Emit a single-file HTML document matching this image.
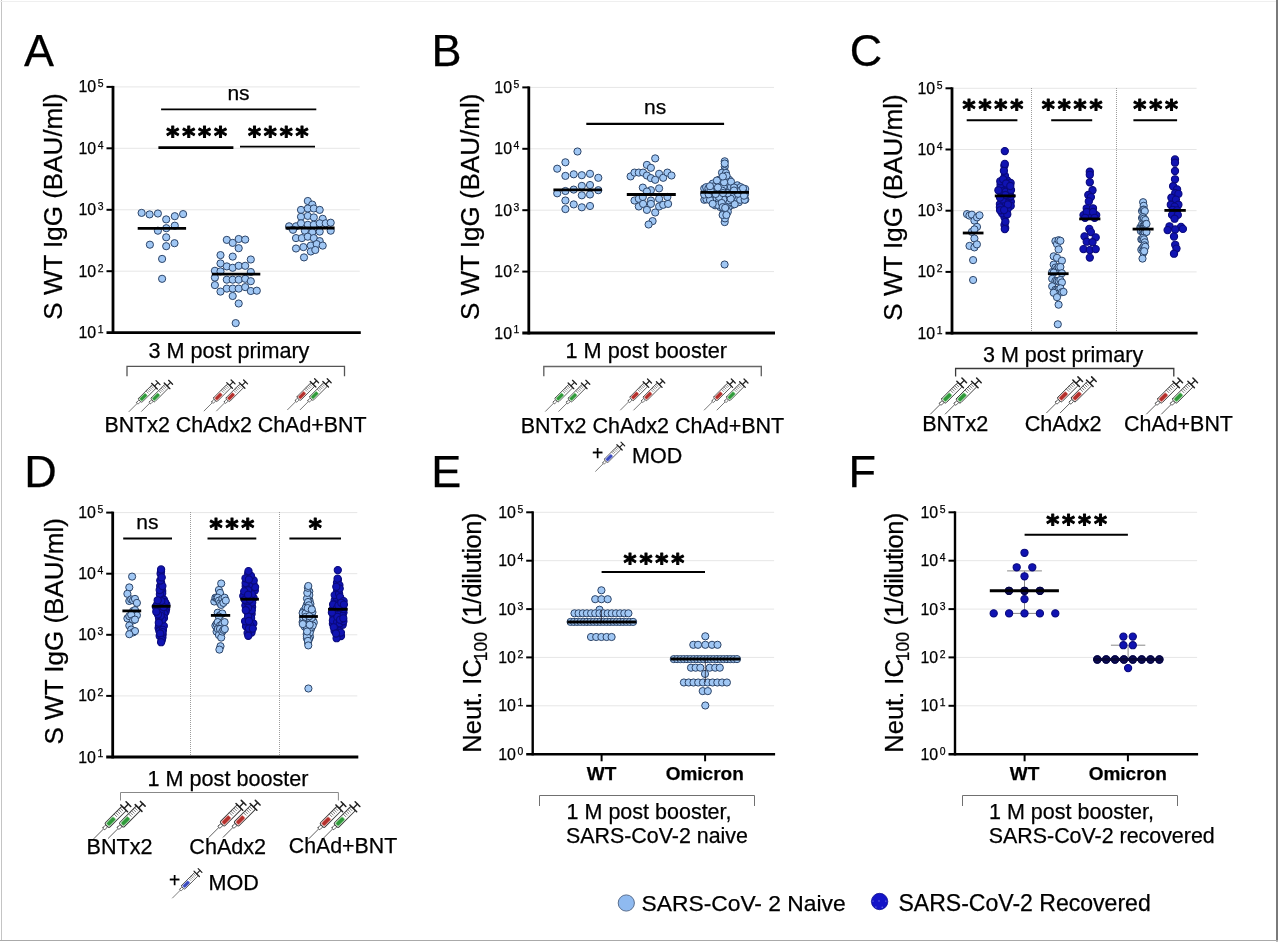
<!DOCTYPE html>
<html lang="en"><head><meta charset="utf-8"><title>Figure</title>
<style>html,body{margin:0;padding:0;background:#fff;}svg{display:block;}text{font-family:"Liberation Sans", sans-serif;fill:#000;stroke:#000;stroke-width:0.25px;}text.st{font-family:"DejaVu Sans Mono",monospace;font-weight:bold;font-size:25px;letter-spacing:0.85px;text-anchor:middle;stroke:#000;stroke-width:1px;stroke-linejoin:round;}</style>
</head><body>
<svg width="1280" height="943" viewBox="0 0 1280 943">
<rect x="0" y="0" width="1280" height="943" fill="#fff"/>
<line x1="1.5" y1="0.0" x2="1.5" y2="941.0" stroke="#c4c4c4" stroke-width="1" />
<line x1="0.0" y1="1.5" x2="1278.0" y2="1.5" stroke="#efefef" stroke-width="1" />
<line x1="1277.0" y1="0.0" x2="1277.0" y2="941.5" stroke="#7a7a7a" stroke-width="2" />
<line x1="0.0" y1="940.5" x2="1278.0" y2="940.5" stroke="#aaaaaa" stroke-width="1.2" />
<text x="24.0" y="66.3" font-size="45" text-anchor="start" font-weight="normal" >A</text>
<line x1="113.0" y1="86.9" x2="359.8" y2="86.9" stroke="#e6e6e6" stroke-width="1" />
<line x1="113.0" y1="148.3" x2="359.8" y2="148.3" stroke="#e6e6e6" stroke-width="1" />
<line x1="113.0" y1="209.8" x2="359.8" y2="209.8" stroke="#e6e6e6" stroke-width="1" />
<line x1="113.0" y1="271.2" x2="359.8" y2="271.2" stroke="#e6e6e6" stroke-width="1" />
<line x1="113.0" y1="85.9" x2="113.0" y2="334.0" stroke="#000" stroke-width="2.8" />
<line x1="106.5" y1="332.6" x2="360.8" y2="332.6" stroke="#000" stroke-width="2.8" />
<line x1="106.5" y1="86.9" x2="113.0" y2="86.9" stroke="#000" stroke-width="2" />
<text x="96.2" y="92.4" font-size="15.9" text-anchor="end" font-weight="normal" >10</text>
<text x="97.7" y="87.3" font-size="10.4" text-anchor="start" font-weight="normal" >5</text>
<line x1="106.5" y1="148.3" x2="113.0" y2="148.3" stroke="#000" stroke-width="2" />
<text x="96.2" y="153.8" font-size="15.9" text-anchor="end" font-weight="normal" >10</text>
<text x="97.7" y="148.7" font-size="10.4" text-anchor="start" font-weight="normal" >4</text>
<line x1="106.5" y1="209.8" x2="113.0" y2="209.8" stroke="#000" stroke-width="2" />
<text x="96.2" y="215.2" font-size="15.9" text-anchor="end" font-weight="normal" >10</text>
<text x="97.7" y="210.2" font-size="10.4" text-anchor="start" font-weight="normal" >3</text>
<line x1="106.5" y1="271.2" x2="113.0" y2="271.2" stroke="#000" stroke-width="2" />
<text x="96.2" y="276.7" font-size="15.9" text-anchor="end" font-weight="normal" >10</text>
<text x="97.7" y="271.6" font-size="10.4" text-anchor="start" font-weight="normal" >2</text>
<text x="96.2" y="338.1" font-size="15.9" text-anchor="end" font-weight="normal" >10</text>
<text x="97.7" y="333.0" font-size="10.4" text-anchor="start" font-weight="normal" >1</text>
<text transform="translate(62.0,206.5) rotate(-90)" font-size="26" text-anchor="middle">S WT IgG (BAU/ml)</text>
<text x="238.5" y="99.7" font-size="21" text-anchor="middle" font-weight="normal" >ns</text>
<line x1="161.1" y1="109.4" x2="316.3" y2="109.4" stroke="#000" stroke-width="1.9" />
<line x1="158.4" y1="147.7" x2="233.4" y2="147.7" stroke="#000" stroke-width="2.8" />
<line x1="240.0" y1="146.6" x2="315.0" y2="146.6" stroke="#000" stroke-width="1.9" />
<text class="st" x="197.1" y="144.1">****</text>
<text class="st" x="278.7" y="144.1">****</text>
<g fill="#a0c7f4" stroke="#2c4468" stroke-width="1.0">
<circle cx="141.6" cy="212.9" r="3.6"/>
<circle cx="149.6" cy="214.4" r="3.6"/>
<circle cx="157.9" cy="213.5" r="3.6"/>
<circle cx="166.2" cy="219.4" r="3.6"/>
<circle cx="174.8" cy="216.2" r="3.6"/>
<circle cx="183.1" cy="214.1" r="3.6"/>
<circle cx="174.8" cy="225.7" r="3.6"/>
<circle cx="157.9" cy="230.7" r="3.6"/>
<circle cx="166.2" cy="237.3" r="3.6"/>
<circle cx="149.9" cy="244.7" r="3.6"/>
<circle cx="166.2" cy="246.2" r="3.6"/>
<circle cx="174.5" cy="243.2" r="3.6"/>
<circle cx="162.1" cy="258.9" r="3.6"/>
<circle cx="162.1" cy="278.8" r="3.6"/>
<circle cx="166.3" cy="228.2" r="3.6"/>
</g>
<g fill="#a0c7f4" stroke="#2c4468" stroke-width="1.0">
<circle cx="226.8" cy="239.9" r="3.6"/>
<circle cx="232.7" cy="242.9" r="3.6"/>
<circle cx="238.7" cy="239.0" r="3.6"/>
<circle cx="245.2" cy="239.6" r="3.6"/>
<circle cx="238.7" cy="248.2" r="3.6"/>
<circle cx="220.5" cy="255.1" r="3.6"/>
<circle cx="232.7" cy="256.6" r="3.6"/>
<circle cx="250.8" cy="259.5" r="3.6"/>
<circle cx="220.5" cy="263.4" r="3.6"/>
<circle cx="226.8" cy="266.4" r="3.6"/>
<circle cx="232.7" cy="267.8" r="3.6"/>
<circle cx="238.7" cy="265.8" r="3.6"/>
<circle cx="245.2" cy="265.8" r="3.6"/>
<circle cx="214.9" cy="270.8" r="3.6"/>
<circle cx="220.5" cy="271.4" r="3.6"/>
<circle cx="250.8" cy="272.0" r="3.6"/>
<circle cx="214.9" cy="277.6" r="3.6"/>
<circle cx="226.8" cy="279.7" r="3.6"/>
<circle cx="232.7" cy="279.7" r="3.6"/>
<circle cx="238.7" cy="279.7" r="3.6"/>
<circle cx="245.2" cy="278.8" r="3.6"/>
<circle cx="250.8" cy="281.2" r="3.6"/>
<circle cx="214.9" cy="285.1" r="3.6"/>
<circle cx="226.8" cy="288.6" r="3.6"/>
<circle cx="232.7" cy="288.6" r="3.6"/>
<circle cx="238.7" cy="288.6" r="3.6"/>
<circle cx="245.2" cy="287.1" r="3.6"/>
<circle cx="220.5" cy="291.6" r="3.6"/>
<circle cx="250.8" cy="291.0" r="3.6"/>
<circle cx="256.8" cy="290.7" r="3.6"/>
<circle cx="232.7" cy="296.0" r="3.6"/>
<circle cx="238.7" cy="303.5" r="3.6"/>
<circle cx="235.7" cy="323.1" r="3.6"/>
</g>
<g fill="#a0c7f4" stroke="#2c4468" stroke-width="1.0">
<circle cx="307.8" cy="201.0" r="3.6"/>
<circle cx="312.3" cy="204.6" r="3.6"/>
<circle cx="301.0" cy="209.9" r="3.6"/>
<circle cx="307.8" cy="208.5" r="3.6"/>
<circle cx="313.8" cy="208.5" r="3.6"/>
<circle cx="319.7" cy="209.9" r="3.6"/>
<circle cx="301.0" cy="216.8" r="3.6"/>
<circle cx="307.8" cy="215.9" r="3.6"/>
<circle cx="313.8" cy="217.4" r="3.6"/>
<circle cx="322.7" cy="218.8" r="3.6"/>
<circle cx="289.1" cy="226.3" r="3.6"/>
<circle cx="296.0" cy="226.3" r="3.6"/>
<circle cx="301.0" cy="223.3" r="3.6"/>
<circle cx="307.8" cy="224.8" r="3.6"/>
<circle cx="313.8" cy="224.8" r="3.6"/>
<circle cx="319.7" cy="223.3" r="3.6"/>
<circle cx="325.7" cy="223.3" r="3.6"/>
<circle cx="330.7" cy="222.7" r="3.6"/>
<circle cx="293.0" cy="229.8" r="3.6"/>
<circle cx="304.9" cy="230.7" r="3.6"/>
<circle cx="312.3" cy="232.2" r="3.6"/>
<circle cx="319.7" cy="231.6" r="3.6"/>
<circle cx="330.7" cy="230.7" r="3.6"/>
<circle cx="296.0" cy="238.1" r="3.6"/>
<circle cx="301.9" cy="238.1" r="3.6"/>
<circle cx="307.8" cy="236.7" r="3.6"/>
<circle cx="313.8" cy="238.1" r="3.6"/>
<circle cx="319.7" cy="241.1" r="3.6"/>
<circle cx="296.0" cy="248.5" r="3.6"/>
<circle cx="303.4" cy="247.1" r="3.6"/>
<circle cx="310.8" cy="245.6" r="3.6"/>
<circle cx="316.7" cy="244.1" r="3.6"/>
<circle cx="322.7" cy="245.6" r="3.6"/>
<circle cx="310.8" cy="251.5" r="3.6"/>
<circle cx="315.3" cy="250.0" r="3.6"/>
<circle cx="304.0" cy="257.4" r="3.6"/>
</g>
<line x1="137.7" y1="228.3" x2="186.1" y2="228.3" stroke="#000" stroke-width="2.8" />
<line x1="211.9" y1="274.1" x2="260.3" y2="274.1" stroke="#000" stroke-width="2.8" />
<line x1="285.6" y1="228.0" x2="334.6" y2="228.0" stroke="#000" stroke-width="2.8" />
<text x="229.0" y="357.5" font-size="21.6" text-anchor="middle" font-weight="normal" >3 M post primary</text>
<path d="M127.0,376.3 V366.3 H344.5 V376.3" fill="none" stroke="#555" stroke-width="1.3"/>
<g transform="translate(129.0,411.6) rotate(-45) scale(1.0)" stroke="#333" stroke-width="0.8" fill="none" stroke-linecap="round">
<line x1="0" y1="0" x2="11.5" y2="0" stroke="#555" stroke-width="0.75"/>
<rect x="11.5" y="-1.2" width="3.8" height="2.4" rx="0.8" fill="#fff" stroke-width="0.65"/>
<rect x="15.3" y="-2.6" width="20.7" height="5.2" rx="1.2" fill="#fff" stroke="#3a3a3a"/>
<rect x="16.3" y="-1.8" width="8.2" height="3.6" rx="1" fill="#2f9a3a" stroke="#9bd69b" stroke-width="0.6"/>
<line x1="26.6" y1="-2.4" x2="26.6" y2="0.5" stroke="#4a4a4a" stroke-width="0.6"/>
<line x1="28.4" y1="-2.4" x2="28.4" y2="0.5" stroke="#4a4a4a" stroke-width="0.6"/>
<line x1="30.2" y1="-2.4" x2="30.2" y2="0.5" stroke="#4a4a4a" stroke-width="0.6"/>
<line x1="32.0" y1="-2.4" x2="32.0" y2="0.5" stroke="#4a4a4a" stroke-width="0.6"/>
<line x1="33.8" y1="-2.4" x2="33.8" y2="0.5" stroke="#4a4a4a" stroke-width="0.6"/>
<line x1="36" y1="-4.0" x2="36" y2="4.0" stroke="#222" stroke-width="1.3"/>
<line x1="36" y1="0" x2="41" y2="0" stroke="#222" stroke-width="1.2"/>
<line x1="41" y1="-2.8" x2="41" y2="2.8" stroke="#222" stroke-width="1.3"/>
</g>
<g transform="translate(141.6,411.3) rotate(-45) scale(1.0)" stroke="#333" stroke-width="0.8" fill="none" stroke-linecap="round">
<line x1="0" y1="0" x2="11.5" y2="0" stroke="#555" stroke-width="0.75"/>
<rect x="11.5" y="-1.2" width="3.8" height="2.4" rx="0.8" fill="#fff" stroke-width="0.65"/>
<rect x="15.3" y="-2.6" width="20.7" height="5.2" rx="1.2" fill="#fff" stroke="#3a3a3a"/>
<rect x="16.3" y="-1.8" width="8.2" height="3.6" rx="1" fill="#2f9a3a" stroke="#9bd69b" stroke-width="0.6"/>
<line x1="26.6" y1="-2.4" x2="26.6" y2="0.5" stroke="#4a4a4a" stroke-width="0.6"/>
<line x1="28.4" y1="-2.4" x2="28.4" y2="0.5" stroke="#4a4a4a" stroke-width="0.6"/>
<line x1="30.2" y1="-2.4" x2="30.2" y2="0.5" stroke="#4a4a4a" stroke-width="0.6"/>
<line x1="32.0" y1="-2.4" x2="32.0" y2="0.5" stroke="#4a4a4a" stroke-width="0.6"/>
<line x1="33.8" y1="-2.4" x2="33.8" y2="0.5" stroke="#4a4a4a" stroke-width="0.6"/>
<line x1="36" y1="-4.0" x2="36" y2="4.0" stroke="#222" stroke-width="1.3"/>
<line x1="36" y1="0" x2="41" y2="0" stroke="#222" stroke-width="1.2"/>
<line x1="41" y1="-2.8" x2="41" y2="2.8" stroke="#222" stroke-width="1.3"/>
</g>
<g transform="translate(204.1,410.9) rotate(-45) scale(1.0)" stroke="#333" stroke-width="0.8" fill="none" stroke-linecap="round">
<line x1="0" y1="0" x2="11.5" y2="0" stroke="#555" stroke-width="0.75"/>
<rect x="11.5" y="-1.2" width="3.8" height="2.4" rx="0.8" fill="#fff" stroke-width="0.65"/>
<rect x="15.3" y="-2.6" width="20.7" height="5.2" rx="1.2" fill="#fff" stroke="#3a3a3a"/>
<rect x="16.3" y="-1.8" width="8.2" height="3.6" rx="1" fill="#b5302c" stroke="#e39b98" stroke-width="0.6"/>
<line x1="26.6" y1="-2.4" x2="26.6" y2="0.5" stroke="#4a4a4a" stroke-width="0.6"/>
<line x1="28.4" y1="-2.4" x2="28.4" y2="0.5" stroke="#4a4a4a" stroke-width="0.6"/>
<line x1="30.2" y1="-2.4" x2="30.2" y2="0.5" stroke="#4a4a4a" stroke-width="0.6"/>
<line x1="32.0" y1="-2.4" x2="32.0" y2="0.5" stroke="#4a4a4a" stroke-width="0.6"/>
<line x1="33.8" y1="-2.4" x2="33.8" y2="0.5" stroke="#4a4a4a" stroke-width="0.6"/>
<line x1="36" y1="-4.0" x2="36" y2="4.0" stroke="#222" stroke-width="1.3"/>
<line x1="36" y1="0" x2="41" y2="0" stroke="#222" stroke-width="1.2"/>
<line x1="41" y1="-2.8" x2="41" y2="2.8" stroke="#222" stroke-width="1.3"/>
</g>
<g transform="translate(216.6,410.9) rotate(-45) scale(1.0)" stroke="#333" stroke-width="0.8" fill="none" stroke-linecap="round">
<line x1="0" y1="0" x2="11.5" y2="0" stroke="#555" stroke-width="0.75"/>
<rect x="11.5" y="-1.2" width="3.8" height="2.4" rx="0.8" fill="#fff" stroke-width="0.65"/>
<rect x="15.3" y="-2.6" width="20.7" height="5.2" rx="1.2" fill="#fff" stroke="#3a3a3a"/>
<rect x="16.3" y="-1.8" width="8.2" height="3.6" rx="1" fill="#b5302c" stroke="#e39b98" stroke-width="0.6"/>
<line x1="26.6" y1="-2.4" x2="26.6" y2="0.5" stroke="#4a4a4a" stroke-width="0.6"/>
<line x1="28.4" y1="-2.4" x2="28.4" y2="0.5" stroke="#4a4a4a" stroke-width="0.6"/>
<line x1="30.2" y1="-2.4" x2="30.2" y2="0.5" stroke="#4a4a4a" stroke-width="0.6"/>
<line x1="32.0" y1="-2.4" x2="32.0" y2="0.5" stroke="#4a4a4a" stroke-width="0.6"/>
<line x1="33.8" y1="-2.4" x2="33.8" y2="0.5" stroke="#4a4a4a" stroke-width="0.6"/>
<line x1="36" y1="-4.0" x2="36" y2="4.0" stroke="#222" stroke-width="1.3"/>
<line x1="36" y1="0" x2="41" y2="0" stroke="#222" stroke-width="1.2"/>
<line x1="41" y1="-2.8" x2="41" y2="2.8" stroke="#222" stroke-width="1.3"/>
</g>
<g transform="translate(287.6,409.7) rotate(-45) scale(1.0)" stroke="#333" stroke-width="0.8" fill="none" stroke-linecap="round">
<line x1="0" y1="0" x2="11.5" y2="0" stroke="#555" stroke-width="0.75"/>
<rect x="11.5" y="-1.2" width="3.8" height="2.4" rx="0.8" fill="#fff" stroke-width="0.65"/>
<rect x="15.3" y="-2.6" width="20.7" height="5.2" rx="1.2" fill="#fff" stroke="#3a3a3a"/>
<rect x="16.3" y="-1.8" width="8.2" height="3.6" rx="1" fill="#b5302c" stroke="#e39b98" stroke-width="0.6"/>
<line x1="26.6" y1="-2.4" x2="26.6" y2="0.5" stroke="#4a4a4a" stroke-width="0.6"/>
<line x1="28.4" y1="-2.4" x2="28.4" y2="0.5" stroke="#4a4a4a" stroke-width="0.6"/>
<line x1="30.2" y1="-2.4" x2="30.2" y2="0.5" stroke="#4a4a4a" stroke-width="0.6"/>
<line x1="32.0" y1="-2.4" x2="32.0" y2="0.5" stroke="#4a4a4a" stroke-width="0.6"/>
<line x1="33.8" y1="-2.4" x2="33.8" y2="0.5" stroke="#4a4a4a" stroke-width="0.6"/>
<line x1="36" y1="-4.0" x2="36" y2="4.0" stroke="#222" stroke-width="1.3"/>
<line x1="36" y1="0" x2="41" y2="0" stroke="#222" stroke-width="1.2"/>
<line x1="41" y1="-2.8" x2="41" y2="2.8" stroke="#222" stroke-width="1.3"/>
</g>
<g transform="translate(300.2,409.7) rotate(-45) scale(1.0)" stroke="#333" stroke-width="0.8" fill="none" stroke-linecap="round">
<line x1="0" y1="0" x2="11.5" y2="0" stroke="#555" stroke-width="0.75"/>
<rect x="11.5" y="-1.2" width="3.8" height="2.4" rx="0.8" fill="#fff" stroke-width="0.65"/>
<rect x="15.3" y="-2.6" width="20.7" height="5.2" rx="1.2" fill="#fff" stroke="#3a3a3a"/>
<rect x="16.3" y="-1.8" width="8.2" height="3.6" rx="1" fill="#2f9a3a" stroke="#9bd69b" stroke-width="0.6"/>
<line x1="26.6" y1="-2.4" x2="26.6" y2="0.5" stroke="#4a4a4a" stroke-width="0.6"/>
<line x1="28.4" y1="-2.4" x2="28.4" y2="0.5" stroke="#4a4a4a" stroke-width="0.6"/>
<line x1="30.2" y1="-2.4" x2="30.2" y2="0.5" stroke="#4a4a4a" stroke-width="0.6"/>
<line x1="32.0" y1="-2.4" x2="32.0" y2="0.5" stroke="#4a4a4a" stroke-width="0.6"/>
<line x1="33.8" y1="-2.4" x2="33.8" y2="0.5" stroke="#4a4a4a" stroke-width="0.6"/>
<line x1="36" y1="-4.0" x2="36" y2="4.0" stroke="#222" stroke-width="1.3"/>
<line x1="36" y1="0" x2="41" y2="0" stroke="#222" stroke-width="1.2"/>
<line x1="41" y1="-2.8" x2="41" y2="2.8" stroke="#222" stroke-width="1.3"/>
</g>
<text x="235.5" y="431.8" font-size="21.4" text-anchor="middle" font-weight="normal" >BNTx2 ChAdx2 ChAd+BNT</text>
<text x="431.5" y="66.3" font-size="45" text-anchor="start" font-weight="normal" >B</text>
<line x1="528.8" y1="87.4" x2="774.0" y2="87.4" stroke="#e6e6e6" stroke-width="1" />
<line x1="528.8" y1="148.8" x2="774.0" y2="148.8" stroke="#e6e6e6" stroke-width="1" />
<line x1="528.8" y1="210.2" x2="774.0" y2="210.2" stroke="#e6e6e6" stroke-width="1" />
<line x1="528.8" y1="271.6" x2="774.0" y2="271.6" stroke="#e6e6e6" stroke-width="1" />
<line x1="528.8" y1="86.4" x2="528.8" y2="334.4" stroke="#000" stroke-width="2.8" />
<line x1="522.3" y1="333.0" x2="775.0" y2="333.0" stroke="#000" stroke-width="2.8" />
<line x1="522.3" y1="87.4" x2="528.8" y2="87.4" stroke="#000" stroke-width="2" />
<text x="512.0" y="92.9" font-size="15.9" text-anchor="end" font-weight="normal" >10</text>
<text x="513.5" y="87.8" font-size="10.4" text-anchor="start" font-weight="normal" >5</text>
<line x1="522.3" y1="148.8" x2="528.8" y2="148.8" stroke="#000" stroke-width="2" />
<text x="512.0" y="154.3" font-size="15.9" text-anchor="end" font-weight="normal" >10</text>
<text x="513.5" y="149.2" font-size="10.4" text-anchor="start" font-weight="normal" >4</text>
<line x1="522.3" y1="210.2" x2="528.8" y2="210.2" stroke="#000" stroke-width="2" />
<text x="512.0" y="215.7" font-size="15.9" text-anchor="end" font-weight="normal" >10</text>
<text x="513.5" y="210.6" font-size="10.4" text-anchor="start" font-weight="normal" >3</text>
<line x1="522.3" y1="271.6" x2="528.8" y2="271.6" stroke="#000" stroke-width="2" />
<text x="512.0" y="277.1" font-size="15.9" text-anchor="end" font-weight="normal" >10</text>
<text x="513.5" y="272.0" font-size="10.4" text-anchor="start" font-weight="normal" >2</text>
<text x="512.0" y="338.5" font-size="15.9" text-anchor="end" font-weight="normal" >10</text>
<text x="513.5" y="333.4" font-size="10.4" text-anchor="start" font-weight="normal" >1</text>
<text transform="translate(478.5,206.8) rotate(-90)" font-size="26" text-anchor="middle">S WT IgG (BAU/ml)</text>
<text x="655.2" y="113.6" font-size="21" text-anchor="middle" font-weight="normal" >ns</text>
<line x1="586.3" y1="123.8" x2="724.1" y2="123.8" stroke="#000" stroke-width="2.2" />
<g fill="#a0c7f4" stroke="#2c4468" stroke-width="1.0">
<circle cx="577.5" cy="151.5" r="3.6"/>
<circle cx="565.4" cy="162.3" r="3.6"/>
<circle cx="557.2" cy="168.7" r="3.6"/>
<circle cx="565.4" cy="175.9" r="3.6"/>
<circle cx="573.7" cy="174.3" r="3.6"/>
<circle cx="581.8" cy="175.2" r="3.6"/>
<circle cx="590.0" cy="173.8" r="3.6"/>
<circle cx="598.3" cy="177.8" r="3.6"/>
<circle cx="581.8" cy="185.9" r="3.6"/>
<circle cx="590.0" cy="185.0" r="3.6"/>
<circle cx="598.3" cy="190.2" r="3.6"/>
<circle cx="557.2" cy="193.3" r="3.6"/>
<circle cx="565.4" cy="191.0" r="3.6"/>
<circle cx="573.7" cy="189.6" r="3.6"/>
<circle cx="581.8" cy="195.3" r="3.6"/>
<circle cx="590.0" cy="194.5" r="3.6"/>
<circle cx="565.4" cy="200.5" r="3.6"/>
<circle cx="573.7" cy="204.4" r="3.6"/>
<circle cx="581.8" cy="207.3" r="3.6"/>
<circle cx="590.0" cy="206.0" r="3.6"/>
<circle cx="565.4" cy="209.1" r="3.6"/>
</g>
<g fill="#a0c7f4" stroke="#2c4468" stroke-width="1.0">
<circle cx="655.2" cy="158.4" r="3.6"/>
<circle cx="646.9" cy="164.9" r="3.6"/>
<circle cx="650.9" cy="167.8" r="3.6"/>
<circle cx="630.6" cy="176.4" r="3.6"/>
<circle cx="634.5" cy="172.6" r="3.6"/>
<circle cx="638.8" cy="172.6" r="3.6"/>
<circle cx="643.1" cy="172.6" r="3.6"/>
<circle cx="646.9" cy="175.5" r="3.6"/>
<circle cx="650.9" cy="178.1" r="3.6"/>
<circle cx="655.2" cy="179.8" r="3.6"/>
<circle cx="659.1" cy="173.8" r="3.6"/>
<circle cx="663.2" cy="177.8" r="3.6"/>
<circle cx="667.4" cy="172.6" r="3.6"/>
<circle cx="671.5" cy="175.5" r="3.6"/>
<circle cx="642.8" cy="187.6" r="3.6"/>
<circle cx="650.9" cy="190.2" r="3.6"/>
<circle cx="659.1" cy="188.4" r="3.6"/>
<circle cx="646.9" cy="191.5" r="3.6"/>
<circle cx="634.5" cy="200.5" r="3.6"/>
<circle cx="638.8" cy="198.8" r="3.6"/>
<circle cx="642.8" cy="197.0" r="3.6"/>
<circle cx="650.9" cy="200.5" r="3.6"/>
<circle cx="659.1" cy="198.8" r="3.6"/>
<circle cx="667.4" cy="197.0" r="3.6"/>
<circle cx="638.8" cy="206.5" r="3.6"/>
<circle cx="643.1" cy="203.9" r="3.6"/>
<circle cx="646.9" cy="209.9" r="3.6"/>
<circle cx="650.9" cy="203.9" r="3.6"/>
<circle cx="655.2" cy="212.5" r="3.6"/>
<circle cx="659.1" cy="206.5" r="3.6"/>
<circle cx="663.2" cy="204.8" r="3.6"/>
<circle cx="668.1" cy="203.9" r="3.6"/>
<circle cx="652.6" cy="221.1" r="3.6"/>
<circle cx="648.6" cy="224.5" r="3.6"/>
</g>
<g fill="#a0c7f4" stroke="#2c4468" stroke-width="1.0">
<circle cx="724.7" cy="161.3" r="3.6"/>
<circle cx="724.7" cy="222.1" r="3.6"/>
<circle cx="724.6" cy="264.5" r="3.6"/>
<circle cx="704.2" cy="188.5" r="3.6"/>
<circle cx="745.2" cy="189.0" r="3.6"/>
<circle cx="704.3" cy="199.8" r="3.6"/>
<circle cx="745.3" cy="199.6" r="3.6"/>
<circle cx="704.5" cy="194.0" r="3.6"/>
<circle cx="745.0" cy="194.3" r="3.6"/>
<circle cx="731.8" cy="193.0" r="3.6"/>
<circle cx="734.8" cy="193.1" r="3.6"/>
<circle cx="725.5" cy="189.2" r="3.6"/>
<circle cx="721.2" cy="182.3" r="3.6"/>
<circle cx="720.9" cy="186.8" r="3.6"/>
<circle cx="720.8" cy="194.5" r="3.6"/>
<circle cx="725.0" cy="218.4" r="3.6"/>
<circle cx="709.9" cy="197.2" r="3.6"/>
<circle cx="714.0" cy="189.3" r="3.6"/>
<circle cx="734.6" cy="195.9" r="3.6"/>
<circle cx="736.6" cy="190.3" r="3.6"/>
<circle cx="729.2" cy="179.8" r="3.6"/>
<circle cx="723.2" cy="179.8" r="3.6"/>
<circle cx="723.7" cy="212.1" r="3.6"/>
<circle cx="720.2" cy="207.0" r="3.6"/>
<circle cx="732.2" cy="204.9" r="3.6"/>
<circle cx="725.5" cy="201.5" r="3.6"/>
<circle cx="728.5" cy="207.3" r="3.6"/>
<circle cx="725.9" cy="183.8" r="3.6"/>
<circle cx="737.3" cy="185.3" r="3.6"/>
<circle cx="729.1" cy="183.8" r="3.6"/>
<circle cx="706.1" cy="187.2" r="3.6"/>
<circle cx="738.8" cy="202.2" r="3.6"/>
<circle cx="724.8" cy="166.5" r="3.6"/>
<circle cx="714.9" cy="196.8" r="3.6"/>
<circle cx="706.5" cy="199.3" r="3.6"/>
<circle cx="725.6" cy="180.4" r="3.6"/>
<circle cx="724.6" cy="171.1" r="3.6"/>
<circle cx="730.7" cy="190.7" r="3.6"/>
<circle cx="741.7" cy="196.8" r="3.6"/>
<circle cx="728.1" cy="186.5" r="3.6"/>
<circle cx="731.0" cy="186.9" r="3.6"/>
<circle cx="704.2" cy="194.6" r="3.6"/>
<circle cx="719.5" cy="179.5" r="3.6"/>
<circle cx="711.7" cy="193.4" r="3.6"/>
<circle cx="727.2" cy="204.5" r="3.6"/>
<circle cx="725.2" cy="196.0" r="3.6"/>
<circle cx="731.0" cy="181.7" r="3.6"/>
<circle cx="730.9" cy="202.2" r="3.6"/>
<circle cx="734.6" cy="201.5" r="3.6"/>
<circle cx="736.8" cy="198.0" r="3.6"/>
<circle cx="727.0" cy="197.6" r="3.6"/>
<circle cx="740.4" cy="193.6" r="3.6"/>
<circle cx="728.7" cy="200.4" r="3.6"/>
<circle cx="716.3" cy="199.3" r="3.6"/>
<circle cx="729.7" cy="195.2" r="3.6"/>
<circle cx="734.7" cy="204.2" r="3.6"/>
<circle cx="725.1" cy="177.7" r="3.6"/>
<circle cx="716.8" cy="183.4" r="3.6"/>
<circle cx="722.6" cy="215.0" r="3.6"/>
<circle cx="722.0" cy="172.7" r="3.6"/>
<circle cx="710.0" cy="200.1" r="3.6"/>
<circle cx="719.9" cy="192.1" r="3.6"/>
<circle cx="740.2" cy="199.8" r="3.6"/>
<circle cx="708.7" cy="194.3" r="3.6"/>
<circle cx="723.6" cy="187.0" r="3.6"/>
<circle cx="718.5" cy="202.5" r="3.6"/>
<circle cx="715.1" cy="205.3" r="3.6"/>
<circle cx="724.7" cy="163.5" r="3.6"/>
<circle cx="723.3" cy="199.4" r="3.6"/>
<circle cx="718.9" cy="196.9" r="3.6"/>
<circle cx="722.3" cy="190.7" r="3.6"/>
<circle cx="727.8" cy="211.8" r="3.6"/>
<circle cx="712.7" cy="183.6" r="3.6"/>
<circle cx="717.6" cy="204.9" r="3.6"/>
<circle cx="724.1" cy="182.3" r="3.6"/>
<circle cx="726.4" cy="215.0" r="3.6"/>
<circle cx="725.9" cy="173.0" r="3.6"/>
<circle cx="714.1" cy="191.9" r="3.6"/>
<circle cx="716.9" cy="180.5" r="3.6"/>
<circle cx="726.6" cy="175.7" r="3.6"/>
<circle cx="715.7" cy="194.0" r="3.6"/>
<circle cx="713.3" cy="186.5" r="3.6"/>
<circle cx="721.7" cy="203.0" r="3.6"/>
<circle cx="740.6" cy="187.1" r="3.6"/>
<circle cx="708.4" cy="188.3" r="3.6"/>
<circle cx="734.0" cy="187.5" r="3.6"/>
<circle cx="710.6" cy="190.1" r="3.6"/>
<circle cx="710.0" cy="186.2" r="3.6"/>
<circle cx="743.7" cy="191.9" r="3.6"/>
<circle cx="732.1" cy="196.5" r="3.6"/>
<circle cx="744.7" cy="199.8" r="3.6"/>
<circle cx="717.9" cy="187.5" r="3.6"/>
<circle cx="738.0" cy="193.8" r="3.6"/>
<circle cx="722.9" cy="176.5" r="3.6"/>
<circle cx="734.0" cy="190.5" r="3.6"/>
<circle cx="730.7" cy="198.7" r="3.6"/>
<circle cx="741.1" cy="190.2" r="3.6"/>
<circle cx="722.7" cy="207.1" r="3.6"/>
<circle cx="727.6" cy="193.3" r="3.6"/>
<circle cx="712.7" cy="203.8" r="3.6"/>
<circle cx="723.0" cy="193.1" r="3.6"/>
<circle cx="743.0" cy="188.3" r="3.6"/>
<circle cx="744.0" cy="195.7" r="3.6"/>
<circle cx="725.2" cy="207.9" r="3.6"/>
</g>
<line x1="553.4" y1="189.8" x2="601.9" y2="189.8" stroke="#000" stroke-width="2.8" />
<line x1="626.8" y1="194.5" x2="675.8" y2="194.5" stroke="#000" stroke-width="2.8" />
<line x1="700.4" y1="192.3" x2="749.0" y2="192.3" stroke="#000" stroke-width="2.8" />
<text x="646.3" y="357.5" font-size="21.7" text-anchor="middle" font-weight="normal" >1 M post booster</text>
<path d="M543.8,376.3 V366.5 H761.3 V376.3" fill="none" stroke="#666" stroke-width="1.4"/>
<g transform="translate(545.5,411.3) rotate(-45) scale(1.0)" stroke="#333" stroke-width="0.8" fill="none" stroke-linecap="round">
<line x1="0" y1="0" x2="11.5" y2="0" stroke="#555" stroke-width="0.75"/>
<rect x="11.5" y="-1.2" width="3.8" height="2.4" rx="0.8" fill="#fff" stroke-width="0.65"/>
<rect x="15.3" y="-2.6" width="20.7" height="5.2" rx="1.2" fill="#fff" stroke="#3a3a3a"/>
<rect x="16.3" y="-1.8" width="8.2" height="3.6" rx="1" fill="#2f9a3a" stroke="#9bd69b" stroke-width="0.6"/>
<line x1="26.6" y1="-2.4" x2="26.6" y2="0.5" stroke="#4a4a4a" stroke-width="0.6"/>
<line x1="28.4" y1="-2.4" x2="28.4" y2="0.5" stroke="#4a4a4a" stroke-width="0.6"/>
<line x1="30.2" y1="-2.4" x2="30.2" y2="0.5" stroke="#4a4a4a" stroke-width="0.6"/>
<line x1="32.0" y1="-2.4" x2="32.0" y2="0.5" stroke="#4a4a4a" stroke-width="0.6"/>
<line x1="33.8" y1="-2.4" x2="33.8" y2="0.5" stroke="#4a4a4a" stroke-width="0.6"/>
<line x1="36" y1="-4.0" x2="36" y2="4.0" stroke="#222" stroke-width="1.3"/>
<line x1="36" y1="0" x2="41" y2="0" stroke="#222" stroke-width="1.2"/>
<line x1="41" y1="-2.8" x2="41" y2="2.8" stroke="#222" stroke-width="1.3"/>
</g>
<g transform="translate(558.8,411.3) rotate(-45) scale(1.0)" stroke="#333" stroke-width="0.8" fill="none" stroke-linecap="round">
<line x1="0" y1="0" x2="11.5" y2="0" stroke="#555" stroke-width="0.75"/>
<rect x="11.5" y="-1.2" width="3.8" height="2.4" rx="0.8" fill="#fff" stroke-width="0.65"/>
<rect x="15.3" y="-2.6" width="20.7" height="5.2" rx="1.2" fill="#fff" stroke="#3a3a3a"/>
<rect x="16.3" y="-1.8" width="8.2" height="3.6" rx="1" fill="#2f9a3a" stroke="#9bd69b" stroke-width="0.6"/>
<line x1="26.6" y1="-2.4" x2="26.6" y2="0.5" stroke="#4a4a4a" stroke-width="0.6"/>
<line x1="28.4" y1="-2.4" x2="28.4" y2="0.5" stroke="#4a4a4a" stroke-width="0.6"/>
<line x1="30.2" y1="-2.4" x2="30.2" y2="0.5" stroke="#4a4a4a" stroke-width="0.6"/>
<line x1="32.0" y1="-2.4" x2="32.0" y2="0.5" stroke="#4a4a4a" stroke-width="0.6"/>
<line x1="33.8" y1="-2.4" x2="33.8" y2="0.5" stroke="#4a4a4a" stroke-width="0.6"/>
<line x1="36" y1="-4.0" x2="36" y2="4.0" stroke="#222" stroke-width="1.3"/>
<line x1="36" y1="0" x2="41" y2="0" stroke="#222" stroke-width="1.2"/>
<line x1="41" y1="-2.8" x2="41" y2="2.8" stroke="#222" stroke-width="1.3"/>
</g>
<g transform="translate(620.5,410.0) rotate(-45) scale(1.0)" stroke="#333" stroke-width="0.8" fill="none" stroke-linecap="round">
<line x1="0" y1="0" x2="11.5" y2="0" stroke="#555" stroke-width="0.75"/>
<rect x="11.5" y="-1.2" width="3.8" height="2.4" rx="0.8" fill="#fff" stroke-width="0.65"/>
<rect x="15.3" y="-2.6" width="20.7" height="5.2" rx="1.2" fill="#fff" stroke="#3a3a3a"/>
<rect x="16.3" y="-1.8" width="8.2" height="3.6" rx="1" fill="#b5302c" stroke="#e39b98" stroke-width="0.6"/>
<line x1="26.6" y1="-2.4" x2="26.6" y2="0.5" stroke="#4a4a4a" stroke-width="0.6"/>
<line x1="28.4" y1="-2.4" x2="28.4" y2="0.5" stroke="#4a4a4a" stroke-width="0.6"/>
<line x1="30.2" y1="-2.4" x2="30.2" y2="0.5" stroke="#4a4a4a" stroke-width="0.6"/>
<line x1="32.0" y1="-2.4" x2="32.0" y2="0.5" stroke="#4a4a4a" stroke-width="0.6"/>
<line x1="33.8" y1="-2.4" x2="33.8" y2="0.5" stroke="#4a4a4a" stroke-width="0.6"/>
<line x1="36" y1="-4.0" x2="36" y2="4.0" stroke="#222" stroke-width="1.3"/>
<line x1="36" y1="0" x2="41" y2="0" stroke="#222" stroke-width="1.2"/>
<line x1="41" y1="-2.8" x2="41" y2="2.8" stroke="#222" stroke-width="1.3"/>
</g>
<g transform="translate(633.8,410.0) rotate(-45) scale(1.0)" stroke="#333" stroke-width="0.8" fill="none" stroke-linecap="round">
<line x1="0" y1="0" x2="11.5" y2="0" stroke="#555" stroke-width="0.75"/>
<rect x="11.5" y="-1.2" width="3.8" height="2.4" rx="0.8" fill="#fff" stroke-width="0.65"/>
<rect x="15.3" y="-2.6" width="20.7" height="5.2" rx="1.2" fill="#fff" stroke="#3a3a3a"/>
<rect x="16.3" y="-1.8" width="8.2" height="3.6" rx="1" fill="#b5302c" stroke="#e39b98" stroke-width="0.6"/>
<line x1="26.6" y1="-2.4" x2="26.6" y2="0.5" stroke="#4a4a4a" stroke-width="0.6"/>
<line x1="28.4" y1="-2.4" x2="28.4" y2="0.5" stroke="#4a4a4a" stroke-width="0.6"/>
<line x1="30.2" y1="-2.4" x2="30.2" y2="0.5" stroke="#4a4a4a" stroke-width="0.6"/>
<line x1="32.0" y1="-2.4" x2="32.0" y2="0.5" stroke="#4a4a4a" stroke-width="0.6"/>
<line x1="33.8" y1="-2.4" x2="33.8" y2="0.5" stroke="#4a4a4a" stroke-width="0.6"/>
<line x1="36" y1="-4.0" x2="36" y2="4.0" stroke="#222" stroke-width="1.3"/>
<line x1="36" y1="0" x2="41" y2="0" stroke="#222" stroke-width="1.2"/>
<line x1="41" y1="-2.8" x2="41" y2="2.8" stroke="#222" stroke-width="1.3"/>
</g>
<g transform="translate(704.3,410.0) rotate(-45) scale(1.0)" stroke="#333" stroke-width="0.8" fill="none" stroke-linecap="round">
<line x1="0" y1="0" x2="11.5" y2="0" stroke="#555" stroke-width="0.75"/>
<rect x="11.5" y="-1.2" width="3.8" height="2.4" rx="0.8" fill="#fff" stroke-width="0.65"/>
<rect x="15.3" y="-2.6" width="20.7" height="5.2" rx="1.2" fill="#fff" stroke="#3a3a3a"/>
<rect x="16.3" y="-1.8" width="8.2" height="3.6" rx="1" fill="#b5302c" stroke="#e39b98" stroke-width="0.6"/>
<line x1="26.6" y1="-2.4" x2="26.6" y2="0.5" stroke="#4a4a4a" stroke-width="0.6"/>
<line x1="28.4" y1="-2.4" x2="28.4" y2="0.5" stroke="#4a4a4a" stroke-width="0.6"/>
<line x1="30.2" y1="-2.4" x2="30.2" y2="0.5" stroke="#4a4a4a" stroke-width="0.6"/>
<line x1="32.0" y1="-2.4" x2="32.0" y2="0.5" stroke="#4a4a4a" stroke-width="0.6"/>
<line x1="33.8" y1="-2.4" x2="33.8" y2="0.5" stroke="#4a4a4a" stroke-width="0.6"/>
<line x1="36" y1="-4.0" x2="36" y2="4.0" stroke="#222" stroke-width="1.3"/>
<line x1="36" y1="0" x2="41" y2="0" stroke="#222" stroke-width="1.2"/>
<line x1="41" y1="-2.8" x2="41" y2="2.8" stroke="#222" stroke-width="1.3"/>
</g>
<g transform="translate(717.0,410.0) rotate(-45) scale(1.0)" stroke="#333" stroke-width="0.8" fill="none" stroke-linecap="round">
<line x1="0" y1="0" x2="11.5" y2="0" stroke="#555" stroke-width="0.75"/>
<rect x="11.5" y="-1.2" width="3.8" height="2.4" rx="0.8" fill="#fff" stroke-width="0.65"/>
<rect x="15.3" y="-2.6" width="20.7" height="5.2" rx="1.2" fill="#fff" stroke="#3a3a3a"/>
<rect x="16.3" y="-1.8" width="8.2" height="3.6" rx="1" fill="#2f9a3a" stroke="#9bd69b" stroke-width="0.6"/>
<line x1="26.6" y1="-2.4" x2="26.6" y2="0.5" stroke="#4a4a4a" stroke-width="0.6"/>
<line x1="28.4" y1="-2.4" x2="28.4" y2="0.5" stroke="#4a4a4a" stroke-width="0.6"/>
<line x1="30.2" y1="-2.4" x2="30.2" y2="0.5" stroke="#4a4a4a" stroke-width="0.6"/>
<line x1="32.0" y1="-2.4" x2="32.0" y2="0.5" stroke="#4a4a4a" stroke-width="0.6"/>
<line x1="33.8" y1="-2.4" x2="33.8" y2="0.5" stroke="#4a4a4a" stroke-width="0.6"/>
<line x1="36" y1="-4.0" x2="36" y2="4.0" stroke="#222" stroke-width="1.3"/>
<line x1="36" y1="0" x2="41" y2="0" stroke="#222" stroke-width="1.2"/>
<line x1="41" y1="-2.8" x2="41" y2="2.8" stroke="#222" stroke-width="1.3"/>
</g>
<text x="652.5" y="432.5" font-size="21.5" text-anchor="middle" font-weight="normal" >BNTx2 ChAdx2 ChAd+BNT</text>
<text x="597.7" y="460.2" font-size="19.3" text-anchor="middle" font-weight="normal" >+</text>
<g transform="translate(595.6,471.3) rotate(-45) scale(0.94)" stroke="#333" stroke-width="0.8" fill="none" stroke-linecap="round">
<line x1="0" y1="0" x2="11.5" y2="0" stroke="#555" stroke-width="0.75"/>
<rect x="11.5" y="-1.2" width="3.8" height="2.4" rx="0.8" fill="#fff" stroke-width="0.65"/>
<rect x="15.3" y="-2.6" width="20.7" height="5.2" rx="1.2" fill="#fff" stroke="#3a3a3a"/>
<rect x="16.3" y="-1.8" width="8.2" height="3.6" rx="1" fill="#3c4cc0" stroke="#a0a8e8" stroke-width="0.6"/>
<line x1="26.6" y1="-2.4" x2="26.6" y2="0.5" stroke="#4a4a4a" stroke-width="0.6"/>
<line x1="28.4" y1="-2.4" x2="28.4" y2="0.5" stroke="#4a4a4a" stroke-width="0.6"/>
<line x1="30.2" y1="-2.4" x2="30.2" y2="0.5" stroke="#4a4a4a" stroke-width="0.6"/>
<line x1="32.0" y1="-2.4" x2="32.0" y2="0.5" stroke="#4a4a4a" stroke-width="0.6"/>
<line x1="33.8" y1="-2.4" x2="33.8" y2="0.5" stroke="#4a4a4a" stroke-width="0.6"/>
<line x1="36" y1="-4.0" x2="36" y2="4.0" stroke="#222" stroke-width="1.3"/>
<line x1="36" y1="0" x2="41" y2="0" stroke="#222" stroke-width="1.2"/>
<line x1="41" y1="-2.8" x2="41" y2="2.8" stroke="#222" stroke-width="1.3"/>
</g>
<text x="632.0" y="463.3" font-size="21.5" text-anchor="start" font-weight="normal" >MOD</text>
<text x="849.8" y="66.3" font-size="45" text-anchor="start" font-weight="normal" >C</text>
<line x1="952.0" y1="88.3" x2="1196.6" y2="88.3" stroke="#e6e6e6" stroke-width="1" />
<line x1="952.0" y1="149.5" x2="1196.6" y2="149.5" stroke="#e6e6e6" stroke-width="1" />
<line x1="952.0" y1="210.7" x2="1196.6" y2="210.7" stroke="#e6e6e6" stroke-width="1" />
<line x1="952.0" y1="271.9" x2="1196.6" y2="271.9" stroke="#e6e6e6" stroke-width="1" />
<line x1="952.0" y1="87.3" x2="952.0" y2="334.5" stroke="#000" stroke-width="2.8" />
<line x1="945.5" y1="333.1" x2="1197.6" y2="333.1" stroke="#000" stroke-width="2.8" />
<line x1="945.5" y1="88.3" x2="952.0" y2="88.3" stroke="#000" stroke-width="2" />
<text x="935.2" y="93.8" font-size="15.9" text-anchor="end" font-weight="normal" >10</text>
<text x="936.7" y="88.7" font-size="10.4" text-anchor="start" font-weight="normal" >5</text>
<line x1="945.5" y1="149.5" x2="952.0" y2="149.5" stroke="#000" stroke-width="2" />
<text x="935.2" y="155.0" font-size="15.9" text-anchor="end" font-weight="normal" >10</text>
<text x="936.7" y="149.9" font-size="10.4" text-anchor="start" font-weight="normal" >4</text>
<line x1="945.5" y1="210.7" x2="952.0" y2="210.7" stroke="#000" stroke-width="2" />
<text x="935.2" y="216.2" font-size="15.9" text-anchor="end" font-weight="normal" >10</text>
<text x="936.7" y="211.1" font-size="10.4" text-anchor="start" font-weight="normal" >3</text>
<line x1="945.5" y1="271.9" x2="952.0" y2="271.9" stroke="#000" stroke-width="2" />
<text x="935.2" y="277.4" font-size="15.9" text-anchor="end" font-weight="normal" >10</text>
<text x="936.7" y="272.3" font-size="10.4" text-anchor="start" font-weight="normal" >2</text>
<text x="935.2" y="338.6" font-size="15.9" text-anchor="end" font-weight="normal" >10</text>
<text x="936.7" y="333.5" font-size="10.4" text-anchor="start" font-weight="normal" >1</text>
<text transform="translate(902.3,207.5) rotate(-90)" font-size="26" text-anchor="middle">S WT IgG (BAU/ml)</text>
<line x1="1031.5" y1="88.0" x2="1031.5" y2="332.0" stroke="#9c9c9c" stroke-width="1" stroke-dasharray="1 1"/>
<line x1="1116.5" y1="88.0" x2="1116.5" y2="332.0" stroke="#9c9c9c" stroke-width="1" stroke-dasharray="1 1"/>
<text class="st" x="993.3" y="117.0">****</text>
<text class="st" x="1072.6" y="117.0">****</text>
<text class="st" x="1156.1" y="117.0">***</text>
<line x1="966.7" y1="120.2" x2="1017.4" y2="120.2" stroke="#000" stroke-width="2" />
<line x1="1051.2" y1="120.2" x2="1092.2" y2="120.2" stroke="#000" stroke-width="2" />
<line x1="1133.4" y1="120.2" x2="1177.1" y2="120.2" stroke="#000" stroke-width="2" />
<g fill="#a0c7f4" stroke="#2c4468" stroke-width="1.0">
<circle cx="967.0" cy="214.1" r="3.6"/>
<circle cx="969.4" cy="215.6" r="3.6"/>
<circle cx="971.9" cy="214.7" r="3.6"/>
<circle cx="974.4" cy="220.6" r="3.6"/>
<circle cx="977.0" cy="217.4" r="3.6"/>
<circle cx="979.5" cy="215.3" r="3.6"/>
<circle cx="977.0" cy="226.9" r="3.6"/>
<circle cx="971.9" cy="231.9" r="3.6"/>
<circle cx="974.4" cy="238.5" r="3.6"/>
<circle cx="969.5" cy="245.9" r="3.6"/>
<circle cx="974.4" cy="247.4" r="3.6"/>
<circle cx="976.9" cy="244.4" r="3.6"/>
<circle cx="973.1" cy="260.1" r="3.6"/>
<circle cx="973.1" cy="280.0" r="3.6"/>
<circle cx="974.4" cy="229.4" r="3.6"/>
</g>
<g fill="#1013b2" stroke="#0a0a7c" stroke-width="1.1">
<circle cx="1001.4" cy="190.3" r="3.6"/>
<circle cx="1007.0" cy="180.2" r="3.6"/>
<circle cx="1010.8" cy="201.7" r="3.6"/>
<circle cx="1005.8" cy="187.7" r="3.6"/>
<circle cx="1008.4" cy="198.1" r="3.6"/>
<circle cx="1010.7" cy="205.9" r="3.6"/>
<circle cx="1002.9" cy="203.5" r="3.6"/>
<circle cx="1003.8" cy="207.2" r="3.6"/>
<circle cx="1000.5" cy="187.4" r="3.6"/>
<circle cx="1001.5" cy="194.4" r="3.6"/>
<circle cx="1003.6" cy="182.0" r="3.6"/>
<circle cx="1000.6" cy="184.5" r="3.6"/>
<circle cx="1004.9" cy="175.6" r="3.6"/>
<circle cx="1005.8" cy="199.3" r="3.6"/>
<circle cx="1010.8" cy="196.2" r="3.6"/>
<circle cx="1004.4" cy="165.8" r="3.6"/>
<circle cx="1008.9" cy="194.0" r="3.6"/>
<circle cx="1000.3" cy="181.3" r="3.6"/>
<circle cx="1003.1" cy="179.2" r="3.6"/>
<circle cx="1004.5" cy="217.2" r="3.6"/>
<circle cx="1005.8" cy="191.7" r="3.6"/>
<circle cx="999.9" cy="204.1" r="3.6"/>
<circle cx="1005.6" cy="202.7" r="3.6"/>
<circle cx="1002.4" cy="199.4" r="3.6"/>
<circle cx="1007.7" cy="208.9" r="3.6"/>
<circle cx="1010.6" cy="183.0" r="3.6"/>
<circle cx="1007.9" cy="204.5" r="3.6"/>
<circle cx="1005.2" cy="228.1" r="3.6"/>
<circle cx="1005.4" cy="195.0" r="3.6"/>
<circle cx="1004.5" cy="224.9" r="3.6"/>
<circle cx="998.4" cy="190.3" r="3.6"/>
<circle cx="1006.1" cy="183.5" r="3.6"/>
<circle cx="1000.0" cy="197.6" r="3.6"/>
<circle cx="1011.0" cy="190.0" r="3.6"/>
<circle cx="1003.9" cy="170.8" r="3.6"/>
<circle cx="1010.3" cy="186.0" r="3.6"/>
<circle cx="1002.2" cy="213.4" r="3.6"/>
<circle cx="1005.4" cy="221.7" r="3.6"/>
<circle cx="999.9" cy="207.3" r="3.6"/>
<circle cx="1007.3" cy="214.3" r="3.6"/>
<circle cx="1000.1" cy="210.3" r="3.6"/>
<circle cx="1004.1" cy="210.1" r="3.6"/>
<circle cx="1004.8" cy="151.1" r="3.6"/>
<circle cx="1004.8" cy="163.9" r="3.6"/>
<circle cx="1004.8" cy="229.1" r="3.6"/>
</g>
<g fill="#a0c7f4" stroke="#2c4468" stroke-width="1.0">
<circle cx="1055.4" cy="241.1" r="3.6"/>
<circle cx="1057.0" cy="244.1" r="3.6"/>
<circle cx="1058.6" cy="240.2" r="3.6"/>
<circle cx="1060.4" cy="240.8" r="3.6"/>
<circle cx="1058.6" cy="249.4" r="3.6"/>
<circle cx="1053.7" cy="256.3" r="3.6"/>
<circle cx="1057.0" cy="257.8" r="3.6"/>
<circle cx="1061.9" cy="260.7" r="3.6"/>
<circle cx="1053.7" cy="264.6" r="3.6"/>
<circle cx="1055.4" cy="267.6" r="3.6"/>
<circle cx="1057.0" cy="269.0" r="3.6"/>
<circle cx="1058.6" cy="267.0" r="3.6"/>
<circle cx="1060.4" cy="267.0" r="3.6"/>
<circle cx="1052.2" cy="272.0" r="3.6"/>
<circle cx="1053.7" cy="272.6" r="3.6"/>
<circle cx="1061.9" cy="273.2" r="3.6"/>
<circle cx="1052.2" cy="278.8" r="3.6"/>
<circle cx="1055.4" cy="280.9" r="3.6"/>
<circle cx="1057.0" cy="280.9" r="3.6"/>
<circle cx="1058.6" cy="280.9" r="3.6"/>
<circle cx="1060.4" cy="280.0" r="3.6"/>
<circle cx="1061.9" cy="282.4" r="3.6"/>
<circle cx="1052.2" cy="286.3" r="3.6"/>
<circle cx="1055.4" cy="289.8" r="3.6"/>
<circle cx="1057.0" cy="289.8" r="3.6"/>
<circle cx="1058.6" cy="289.8" r="3.6"/>
<circle cx="1060.4" cy="288.3" r="3.6"/>
<circle cx="1053.7" cy="292.8" r="3.6"/>
<circle cx="1061.9" cy="292.2" r="3.6"/>
<circle cx="1063.5" cy="291.9" r="3.6"/>
<circle cx="1057.0" cy="297.2" r="3.6"/>
<circle cx="1058.6" cy="304.7" r="3.6"/>
<circle cx="1057.8" cy="324.3" r="3.6"/>
</g>
<g fill="#1013b2" stroke="#0a0a7c" stroke-width="1.1">
<circle cx="1089.8" cy="171.7" r="3.6"/>
<circle cx="1089.8" cy="174.8" r="3.6"/>
<circle cx="1089.8" cy="182.3" r="3.6"/>
<circle cx="1092.5" cy="190.2" r="3.6"/>
<circle cx="1088.3" cy="195.0" r="3.6"/>
<circle cx="1090.9" cy="197.1" r="3.6"/>
<circle cx="1088.8" cy="201.4" r="3.6"/>
<circle cx="1086.7" cy="208.3" r="3.6"/>
<circle cx="1093.0" cy="208.3" r="3.6"/>
<circle cx="1083.5" cy="215.1" r="3.6"/>
<circle cx="1089.8" cy="214.6" r="3.6"/>
<circle cx="1096.2" cy="215.1" r="3.6"/>
<circle cx="1086.7" cy="212.0" r="3.6"/>
<circle cx="1093.0" cy="212.0" r="3.6"/>
<circle cx="1085.1" cy="217.8" r="3.6"/>
<circle cx="1094.6" cy="217.8" r="3.6"/>
<circle cx="1089.3" cy="228.9" r="3.6"/>
<circle cx="1090.9" cy="232.1" r="3.6"/>
<circle cx="1084.5" cy="236.4" r="3.6"/>
<circle cx="1095.7" cy="237.4" r="3.6"/>
<circle cx="1086.7" cy="241.7" r="3.6"/>
<circle cx="1092.5" cy="242.2" r="3.6"/>
<circle cx="1083.5" cy="249.1" r="3.6"/>
<circle cx="1089.8" cy="250.1" r="3.6"/>
<circle cx="1095.7" cy="249.1" r="3.6"/>
<circle cx="1089.8" cy="257.6" r="3.6"/>
</g>
<g fill="#a0c7f4" stroke="#2c4468" stroke-width="1.0">
<circle cx="1143.1" cy="202.2" r="3.6"/>
<circle cx="1143.7" cy="205.8" r="3.6"/>
<circle cx="1142.0" cy="211.1" r="3.6"/>
<circle cx="1143.1" cy="209.7" r="3.6"/>
<circle cx="1144.0" cy="209.7" r="3.6"/>
<circle cx="1144.8" cy="211.1" r="3.6"/>
<circle cx="1142.0" cy="218.0" r="3.6"/>
<circle cx="1143.1" cy="217.1" r="3.6"/>
<circle cx="1144.0" cy="218.6" r="3.6"/>
<circle cx="1145.3" cy="220.0" r="3.6"/>
<circle cx="1140.3" cy="227.5" r="3.6"/>
<circle cx="1141.3" cy="227.5" r="3.6"/>
<circle cx="1142.0" cy="224.5" r="3.6"/>
<circle cx="1143.1" cy="226.0" r="3.6"/>
<circle cx="1144.0" cy="226.0" r="3.6"/>
<circle cx="1144.8" cy="224.5" r="3.6"/>
<circle cx="1145.7" cy="224.5" r="3.6"/>
<circle cx="1146.5" cy="223.9" r="3.6"/>
<circle cx="1140.8" cy="231.0" r="3.6"/>
<circle cx="1142.6" cy="231.9" r="3.6"/>
<circle cx="1143.7" cy="233.4" r="3.6"/>
<circle cx="1144.8" cy="232.8" r="3.6"/>
<circle cx="1146.5" cy="231.9" r="3.6"/>
<circle cx="1141.3" cy="239.3" r="3.6"/>
<circle cx="1142.2" cy="239.3" r="3.6"/>
<circle cx="1143.1" cy="237.9" r="3.6"/>
<circle cx="1144.0" cy="239.3" r="3.6"/>
<circle cx="1144.8" cy="242.3" r="3.6"/>
<circle cx="1141.3" cy="249.7" r="3.6"/>
<circle cx="1142.4" cy="248.3" r="3.6"/>
<circle cx="1143.5" cy="246.8" r="3.6"/>
<circle cx="1144.4" cy="245.3" r="3.6"/>
<circle cx="1145.3" cy="246.8" r="3.6"/>
<circle cx="1143.5" cy="252.7" r="3.6"/>
<circle cx="1144.2" cy="251.2" r="3.6"/>
<circle cx="1142.5" cy="258.6" r="3.6"/>
</g>
<g fill="#1013b2" stroke="#0a0a7c" stroke-width="1.1">
<circle cx="1175.0" cy="159.5" r="3.6"/>
<circle cx="1175.0" cy="162.7" r="3.6"/>
<circle cx="1175.0" cy="171.0" r="3.6"/>
<circle cx="1175.0" cy="179.3" r="3.6"/>
<circle cx="1173.1" cy="186.2" r="3.6"/>
<circle cx="1177.1" cy="189.4" r="3.6"/>
<circle cx="1175.2" cy="193.2" r="3.6"/>
<circle cx="1178.4" cy="193.9" r="3.6"/>
<circle cx="1171.4" cy="197.7" r="3.6"/>
<circle cx="1175.9" cy="199.6" r="3.6"/>
<circle cx="1170.8" cy="204.7" r="3.6"/>
<circle cx="1178.4" cy="204.7" r="3.6"/>
<circle cx="1174.6" cy="206.6" r="3.6"/>
<circle cx="1172.7" cy="209.8" r="3.6"/>
<circle cx="1177.1" cy="210.4" r="3.6"/>
<circle cx="1172.1" cy="214.9" r="3.6"/>
<circle cx="1177.8" cy="214.9" r="3.6"/>
<circle cx="1174.6" cy="218.7" r="3.6"/>
<circle cx="1169.5" cy="226.3" r="3.6"/>
<circle cx="1181.0" cy="226.9" r="3.6"/>
<circle cx="1167.6" cy="230.1" r="3.6"/>
<circle cx="1175.2" cy="229.5" r="3.6"/>
<circle cx="1182.9" cy="228.9" r="3.6"/>
<circle cx="1174.0" cy="236.5" r="3.6"/>
<circle cx="1175.2" cy="244.8" r="3.6"/>
<circle cx="1176.5" cy="248.6" r="3.6"/>
<circle cx="1174.0" cy="253.7" r="3.6"/>
</g>
<line x1="962.8" y1="233.0" x2="983.5" y2="233.0" stroke="#000" stroke-width="2.8" />
<line x1="994.8" y1="195.9" x2="1015.7" y2="195.9" stroke="#000" stroke-width="2.8" />
<line x1="1047.9" y1="273.7" x2="1068.6" y2="273.7" stroke="#000" stroke-width="2.8" />
<line x1="1079.2" y1="218.9" x2="1100.4" y2="218.9" stroke="#000" stroke-width="2.8" />
<line x1="1132.6" y1="229.1" x2="1153.6" y2="229.1" stroke="#000" stroke-width="2.8" />
<line x1="1164.4" y1="210.4" x2="1185.8" y2="210.4" stroke="#000" stroke-width="2.8" />
<text x="1063.1" y="362.0" font-size="21.5" text-anchor="middle" font-weight="normal" >3 M post primary</text>
<path d="M955.6,376.5 V368.5 H1173.8 V376.5" fill="none" stroke="#3a3a3a" stroke-width="1.3"/>
<g transform="translate(930.6,414.0) rotate(-45) scale(1.16)" stroke="#333" stroke-width="0.8" fill="none" stroke-linecap="round">
<line x1="0" y1="0" x2="11.5" y2="0" stroke="#555" stroke-width="0.75"/>
<rect x="11.5" y="-1.2" width="3.8" height="2.4" rx="0.8" fill="#fff" stroke-width="0.65"/>
<rect x="15.3" y="-2.6" width="20.7" height="5.2" rx="1.2" fill="#fff" stroke="#3a3a3a"/>
<rect x="16.3" y="-1.8" width="8.2" height="3.6" rx="1" fill="#2f9a3a" stroke="#9bd69b" stroke-width="0.6"/>
<line x1="26.6" y1="-2.4" x2="26.6" y2="0.5" stroke="#4a4a4a" stroke-width="0.6"/>
<line x1="28.4" y1="-2.4" x2="28.4" y2="0.5" stroke="#4a4a4a" stroke-width="0.6"/>
<line x1="30.2" y1="-2.4" x2="30.2" y2="0.5" stroke="#4a4a4a" stroke-width="0.6"/>
<line x1="32.0" y1="-2.4" x2="32.0" y2="0.5" stroke="#4a4a4a" stroke-width="0.6"/>
<line x1="33.8" y1="-2.4" x2="33.8" y2="0.5" stroke="#4a4a4a" stroke-width="0.6"/>
<line x1="36" y1="-4.0" x2="36" y2="4.0" stroke="#222" stroke-width="1.3"/>
<line x1="36" y1="0" x2="41" y2="0" stroke="#222" stroke-width="1.2"/>
<line x1="41" y1="-2.8" x2="41" y2="2.8" stroke="#222" stroke-width="1.3"/>
</g>
<g transform="translate(945.3,414.0) rotate(-45) scale(1.16)" stroke="#333" stroke-width="0.8" fill="none" stroke-linecap="round">
<line x1="0" y1="0" x2="11.5" y2="0" stroke="#555" stroke-width="0.75"/>
<rect x="11.5" y="-1.2" width="3.8" height="2.4" rx="0.8" fill="#fff" stroke-width="0.65"/>
<rect x="15.3" y="-2.6" width="20.7" height="5.2" rx="1.2" fill="#fff" stroke="#3a3a3a"/>
<rect x="16.3" y="-1.8" width="8.2" height="3.6" rx="1" fill="#2f9a3a" stroke="#9bd69b" stroke-width="0.6"/>
<line x1="26.6" y1="-2.4" x2="26.6" y2="0.5" stroke="#4a4a4a" stroke-width="0.6"/>
<line x1="28.4" y1="-2.4" x2="28.4" y2="0.5" stroke="#4a4a4a" stroke-width="0.6"/>
<line x1="30.2" y1="-2.4" x2="30.2" y2="0.5" stroke="#4a4a4a" stroke-width="0.6"/>
<line x1="32.0" y1="-2.4" x2="32.0" y2="0.5" stroke="#4a4a4a" stroke-width="0.6"/>
<line x1="33.8" y1="-2.4" x2="33.8" y2="0.5" stroke="#4a4a4a" stroke-width="0.6"/>
<line x1="36" y1="-4.0" x2="36" y2="4.0" stroke="#222" stroke-width="1.3"/>
<line x1="36" y1="0" x2="41" y2="0" stroke="#222" stroke-width="1.2"/>
<line x1="41" y1="-2.8" x2="41" y2="2.8" stroke="#222" stroke-width="1.3"/>
</g>
<g transform="translate(1046.6,412.8) rotate(-45) scale(1.16)" stroke="#333" stroke-width="0.8" fill="none" stroke-linecap="round">
<line x1="0" y1="0" x2="11.5" y2="0" stroke="#555" stroke-width="0.75"/>
<rect x="11.5" y="-1.2" width="3.8" height="2.4" rx="0.8" fill="#fff" stroke-width="0.65"/>
<rect x="15.3" y="-2.6" width="20.7" height="5.2" rx="1.2" fill="#fff" stroke="#3a3a3a"/>
<rect x="16.3" y="-1.8" width="8.2" height="3.6" rx="1" fill="#b5302c" stroke="#e39b98" stroke-width="0.6"/>
<line x1="26.6" y1="-2.4" x2="26.6" y2="0.5" stroke="#4a4a4a" stroke-width="0.6"/>
<line x1="28.4" y1="-2.4" x2="28.4" y2="0.5" stroke="#4a4a4a" stroke-width="0.6"/>
<line x1="30.2" y1="-2.4" x2="30.2" y2="0.5" stroke="#4a4a4a" stroke-width="0.6"/>
<line x1="32.0" y1="-2.4" x2="32.0" y2="0.5" stroke="#4a4a4a" stroke-width="0.6"/>
<line x1="33.8" y1="-2.4" x2="33.8" y2="0.5" stroke="#4a4a4a" stroke-width="0.6"/>
<line x1="36" y1="-4.0" x2="36" y2="4.0" stroke="#222" stroke-width="1.3"/>
<line x1="36" y1="0" x2="41" y2="0" stroke="#222" stroke-width="1.2"/>
<line x1="41" y1="-2.8" x2="41" y2="2.8" stroke="#222" stroke-width="1.3"/>
</g>
<g transform="translate(1060.3,412.8) rotate(-45) scale(1.16)" stroke="#333" stroke-width="0.8" fill="none" stroke-linecap="round">
<line x1="0" y1="0" x2="11.5" y2="0" stroke="#555" stroke-width="0.75"/>
<rect x="11.5" y="-1.2" width="3.8" height="2.4" rx="0.8" fill="#fff" stroke-width="0.65"/>
<rect x="15.3" y="-2.6" width="20.7" height="5.2" rx="1.2" fill="#fff" stroke="#3a3a3a"/>
<rect x="16.3" y="-1.8" width="8.2" height="3.6" rx="1" fill="#b5302c" stroke="#e39b98" stroke-width="0.6"/>
<line x1="26.6" y1="-2.4" x2="26.6" y2="0.5" stroke="#4a4a4a" stroke-width="0.6"/>
<line x1="28.4" y1="-2.4" x2="28.4" y2="0.5" stroke="#4a4a4a" stroke-width="0.6"/>
<line x1="30.2" y1="-2.4" x2="30.2" y2="0.5" stroke="#4a4a4a" stroke-width="0.6"/>
<line x1="32.0" y1="-2.4" x2="32.0" y2="0.5" stroke="#4a4a4a" stroke-width="0.6"/>
<line x1="33.8" y1="-2.4" x2="33.8" y2="0.5" stroke="#4a4a4a" stroke-width="0.6"/>
<line x1="36" y1="-4.0" x2="36" y2="4.0" stroke="#222" stroke-width="1.3"/>
<line x1="36" y1="0" x2="41" y2="0" stroke="#222" stroke-width="1.2"/>
<line x1="41" y1="-2.8" x2="41" y2="2.8" stroke="#222" stroke-width="1.3"/>
</g>
<g transform="translate(1146.6,414.0) rotate(-45) scale(1.16)" stroke="#333" stroke-width="0.8" fill="none" stroke-linecap="round">
<line x1="0" y1="0" x2="11.5" y2="0" stroke="#555" stroke-width="0.75"/>
<rect x="11.5" y="-1.2" width="3.8" height="2.4" rx="0.8" fill="#fff" stroke-width="0.65"/>
<rect x="15.3" y="-2.6" width="20.7" height="5.2" rx="1.2" fill="#fff" stroke="#3a3a3a"/>
<rect x="16.3" y="-1.8" width="8.2" height="3.6" rx="1" fill="#b5302c" stroke="#e39b98" stroke-width="0.6"/>
<line x1="26.6" y1="-2.4" x2="26.6" y2="0.5" stroke="#4a4a4a" stroke-width="0.6"/>
<line x1="28.4" y1="-2.4" x2="28.4" y2="0.5" stroke="#4a4a4a" stroke-width="0.6"/>
<line x1="30.2" y1="-2.4" x2="30.2" y2="0.5" stroke="#4a4a4a" stroke-width="0.6"/>
<line x1="32.0" y1="-2.4" x2="32.0" y2="0.5" stroke="#4a4a4a" stroke-width="0.6"/>
<line x1="33.8" y1="-2.4" x2="33.8" y2="0.5" stroke="#4a4a4a" stroke-width="0.6"/>
<line x1="36" y1="-4.0" x2="36" y2="4.0" stroke="#222" stroke-width="1.3"/>
<line x1="36" y1="0" x2="41" y2="0" stroke="#222" stroke-width="1.2"/>
<line x1="41" y1="-2.8" x2="41" y2="2.8" stroke="#222" stroke-width="1.3"/>
</g>
<g transform="translate(1161.6,414.0) rotate(-45) scale(1.16)" stroke="#333" stroke-width="0.8" fill="none" stroke-linecap="round">
<line x1="0" y1="0" x2="11.5" y2="0" stroke="#555" stroke-width="0.75"/>
<rect x="11.5" y="-1.2" width="3.8" height="2.4" rx="0.8" fill="#fff" stroke-width="0.65"/>
<rect x="15.3" y="-2.6" width="20.7" height="5.2" rx="1.2" fill="#fff" stroke="#3a3a3a"/>
<rect x="16.3" y="-1.8" width="8.2" height="3.6" rx="1" fill="#2f9a3a" stroke="#9bd69b" stroke-width="0.6"/>
<line x1="26.6" y1="-2.4" x2="26.6" y2="0.5" stroke="#4a4a4a" stroke-width="0.6"/>
<line x1="28.4" y1="-2.4" x2="28.4" y2="0.5" stroke="#4a4a4a" stroke-width="0.6"/>
<line x1="30.2" y1="-2.4" x2="30.2" y2="0.5" stroke="#4a4a4a" stroke-width="0.6"/>
<line x1="32.0" y1="-2.4" x2="32.0" y2="0.5" stroke="#4a4a4a" stroke-width="0.6"/>
<line x1="33.8" y1="-2.4" x2="33.8" y2="0.5" stroke="#4a4a4a" stroke-width="0.6"/>
<line x1="36" y1="-4.0" x2="36" y2="4.0" stroke="#222" stroke-width="1.3"/>
<line x1="36" y1="0" x2="41" y2="0" stroke="#222" stroke-width="1.2"/>
<line x1="41" y1="-2.8" x2="41" y2="2.8" stroke="#222" stroke-width="1.3"/>
</g>
<text x="955.2" y="431.0" font-size="21.6" text-anchor="middle" font-weight="normal" >BNTx2</text>
<text x="1063.1" y="431.0" font-size="21.6" text-anchor="middle" font-weight="normal" >ChAdx2</text>
<text x="1178.5" y="430.5" font-size="21.4" text-anchor="middle" font-weight="normal" >ChAd+BNT</text>
<text x="24.2" y="486.5" font-size="45" text-anchor="start" font-weight="normal" >D</text>
<line x1="112.7" y1="512.6" x2="357.3" y2="512.6" stroke="#e6e6e6" stroke-width="1" />
<line x1="112.7" y1="573.7" x2="357.3" y2="573.7" stroke="#e6e6e6" stroke-width="1" />
<line x1="112.7" y1="634.8" x2="357.3" y2="634.8" stroke="#e6e6e6" stroke-width="1" />
<line x1="112.7" y1="695.9" x2="357.3" y2="695.9" stroke="#e6e6e6" stroke-width="1" />
<line x1="112.7" y1="511.6" x2="112.7" y2="758.4" stroke="#000" stroke-width="2.8" />
<line x1="106.2" y1="757.0" x2="358.3" y2="757.0" stroke="#000" stroke-width="2.8" />
<line x1="106.2" y1="512.6" x2="112.7" y2="512.6" stroke="#000" stroke-width="2" />
<text x="95.9" y="518.1" font-size="15.9" text-anchor="end" font-weight="normal" >10</text>
<text x="97.4" y="513.0" font-size="10.4" text-anchor="start" font-weight="normal" >5</text>
<line x1="106.2" y1="573.7" x2="112.7" y2="573.7" stroke="#000" stroke-width="2" />
<text x="95.9" y="579.2" font-size="15.9" text-anchor="end" font-weight="normal" >10</text>
<text x="97.4" y="574.1" font-size="10.4" text-anchor="start" font-weight="normal" >4</text>
<line x1="106.2" y1="634.8" x2="112.7" y2="634.8" stroke="#000" stroke-width="2" />
<text x="95.9" y="640.3" font-size="15.9" text-anchor="end" font-weight="normal" >10</text>
<text x="97.4" y="635.2" font-size="10.4" text-anchor="start" font-weight="normal" >3</text>
<line x1="106.2" y1="695.9" x2="112.7" y2="695.9" stroke="#000" stroke-width="2" />
<text x="95.9" y="701.4" font-size="15.9" text-anchor="end" font-weight="normal" >10</text>
<text x="97.4" y="696.3" font-size="10.4" text-anchor="start" font-weight="normal" >2</text>
<text x="95.9" y="762.5" font-size="15.9" text-anchor="end" font-weight="normal" >10</text>
<text x="97.4" y="757.4" font-size="10.4" text-anchor="start" font-weight="normal" >1</text>
<text transform="translate(62.5,631.3) rotate(-90)" font-size="26" text-anchor="middle">S WT IgG (BAU/ml)</text>
<line x1="190.5" y1="512.0" x2="190.5" y2="756.0" stroke="#9c9c9c" stroke-width="1" stroke-dasharray="1 1"/>
<line x1="279.5" y1="512.0" x2="279.5" y2="756.0" stroke="#9c9c9c" stroke-width="1" stroke-dasharray="1 1"/>
<text x="147.4" y="528.5" font-size="21" text-anchor="middle" font-weight="normal" >ns</text>
<text class="st" x="232.4" y="535.7">***</text>
<text class="st" x="315.8" y="535.7">*</text>
<line x1="123.2" y1="538.5" x2="172.0" y2="538.5" stroke="#000" stroke-width="2.2" />
<line x1="207.5" y1="538.5" x2="256.3" y2="538.5" stroke="#000" stroke-width="2.2" />
<line x1="289.4" y1="538.5" x2="341.0" y2="538.5" stroke="#000" stroke-width="2.2" />
<g fill="#a0c7f4" stroke="#2c4468" stroke-width="1.0">
<circle cx="132.1" cy="576.6" r="3.6"/>
<circle cx="129.3" cy="587.4" r="3.6"/>
<circle cx="127.4" cy="593.8" r="3.6"/>
<circle cx="129.3" cy="601.0" r="3.6"/>
<circle cx="131.2" cy="599.4" r="3.6"/>
<circle cx="133.1" cy="600.3" r="3.6"/>
<circle cx="135.0" cy="598.9" r="3.6"/>
<circle cx="136.9" cy="602.9" r="3.6"/>
<circle cx="133.1" cy="611.0" r="3.6"/>
<circle cx="135.0" cy="610.1" r="3.6"/>
<circle cx="136.9" cy="615.3" r="3.6"/>
<circle cx="127.4" cy="618.4" r="3.6"/>
<circle cx="129.3" cy="616.1" r="3.6"/>
<circle cx="131.2" cy="614.7" r="3.6"/>
<circle cx="133.1" cy="620.4" r="3.6"/>
<circle cx="135.0" cy="619.6" r="3.6"/>
<circle cx="129.3" cy="625.6" r="3.6"/>
<circle cx="131.2" cy="629.5" r="3.6"/>
<circle cx="133.1" cy="632.4" r="3.6"/>
<circle cx="135.0" cy="631.1" r="3.6"/>
<circle cx="129.3" cy="634.2" r="3.6"/>
</g>
<g fill="#1013b2" stroke="#0a0a7c" stroke-width="1.1">
<circle cx="166.1" cy="609.0" r="3.6"/>
<circle cx="161.2" cy="596.2" r="3.6"/>
<circle cx="165.6" cy="611.7" r="3.6"/>
<circle cx="161.9" cy="623.0" r="3.6"/>
<circle cx="162.6" cy="634.4" r="3.6"/>
<circle cx="163.2" cy="610.2" r="3.6"/>
<circle cx="159.3" cy="606.0" r="3.6"/>
<circle cx="158.6" cy="628.1" r="3.6"/>
<circle cx="162.2" cy="590.9" r="3.6"/>
<circle cx="162.9" cy="615.9" r="3.6"/>
<circle cx="160.4" cy="608.6" r="3.6"/>
<circle cx="161.1" cy="628.3" r="3.6"/>
<circle cx="160.0" cy="598.8" r="3.6"/>
<circle cx="163.1" cy="604.2" r="3.6"/>
<circle cx="159.7" cy="620.4" r="3.6"/>
<circle cx="159.0" cy="625.5" r="3.6"/>
<circle cx="163.8" cy="625.9" r="3.6"/>
<circle cx="162.2" cy="593.4" r="3.6"/>
<circle cx="159.9" cy="594.3" r="3.6"/>
<circle cx="164.4" cy="613.8" r="3.6"/>
<circle cx="164.0" cy="618.0" r="3.6"/>
<circle cx="160.2" cy="586.0" r="3.6"/>
<circle cx="162.4" cy="619.7" r="3.6"/>
<circle cx="166.3" cy="604.5" r="3.6"/>
<circle cx="159.0" cy="618.1" r="3.6"/>
<circle cx="158.8" cy="611.5" r="3.6"/>
<circle cx="156.8" cy="609.0" r="3.6"/>
<circle cx="163.9" cy="599.7" r="3.6"/>
<circle cx="161.1" cy="582.8" r="3.6"/>
<circle cx="159.4" cy="631.0" r="3.6"/>
<circle cx="161.0" cy="571.5" r="3.6"/>
<circle cx="155.8" cy="606.6" r="3.6"/>
<circle cx="162.4" cy="637.4" r="3.6"/>
<circle cx="165.0" cy="602.2" r="3.6"/>
<circle cx="162.9" cy="629.9" r="3.6"/>
<circle cx="160.5" cy="603.2" r="3.6"/>
<circle cx="157.3" cy="604.2" r="3.6"/>
<circle cx="162.5" cy="632.1" r="3.6"/>
<circle cx="161.5" cy="588.8" r="3.6"/>
<circle cx="159.7" cy="590.0" r="3.6"/>
<circle cx="160.8" cy="612.9" r="3.6"/>
<circle cx="162.4" cy="586.1" r="3.6"/>
<circle cx="160.7" cy="615.8" r="3.6"/>
<circle cx="160.6" cy="573.7" r="3.6"/>
<circle cx="163.6" cy="607.1" r="3.6"/>
<circle cx="158.8" cy="622.7" r="3.6"/>
<circle cx="160.3" cy="580.5" r="3.6"/>
<circle cx="159.7" cy="636.0" r="3.6"/>
<circle cx="161.3" cy="601.0" r="3.6"/>
<circle cx="160.2" cy="633.5" r="3.6"/>
<circle cx="161.8" cy="640.0" r="3.6"/>
<circle cx="161.7" cy="577.4" r="3.6"/>
<circle cx="158.0" cy="614.5" r="3.6"/>
<circle cx="157.7" cy="600.3" r="3.6"/>
<circle cx="156.3" cy="611.7" r="3.6"/>
<circle cx="161.1" cy="569.5" r="3.6"/>
<circle cx="161.1" cy="642.2" r="3.6"/>
</g>
<g fill="#a0c7f4" stroke="#2c4468" stroke-width="1.0">
<circle cx="221.2" cy="583.5" r="3.6"/>
<circle cx="218.9" cy="590.0" r="3.6"/>
<circle cx="220.0" cy="592.9" r="3.6"/>
<circle cx="214.3" cy="601.5" r="3.6"/>
<circle cx="215.4" cy="597.7" r="3.6"/>
<circle cx="216.6" cy="597.7" r="3.6"/>
<circle cx="217.8" cy="597.7" r="3.6"/>
<circle cx="218.9" cy="600.6" r="3.6"/>
<circle cx="220.0" cy="603.2" r="3.6"/>
<circle cx="221.2" cy="604.9" r="3.6"/>
<circle cx="222.3" cy="598.9" r="3.6"/>
<circle cx="223.4" cy="602.9" r="3.6"/>
<circle cx="224.6" cy="597.7" r="3.6"/>
<circle cx="225.8" cy="600.6" r="3.6"/>
<circle cx="217.7" cy="612.7" r="3.6"/>
<circle cx="220.0" cy="615.3" r="3.6"/>
<circle cx="222.3" cy="613.5" r="3.6"/>
<circle cx="218.9" cy="616.6" r="3.6"/>
<circle cx="215.4" cy="625.6" r="3.6"/>
<circle cx="216.6" cy="623.9" r="3.6"/>
<circle cx="217.7" cy="622.1" r="3.6"/>
<circle cx="220.0" cy="625.6" r="3.6"/>
<circle cx="222.3" cy="623.9" r="3.6"/>
<circle cx="224.6" cy="622.1" r="3.6"/>
<circle cx="216.6" cy="631.6" r="3.6"/>
<circle cx="217.8" cy="629.0" r="3.6"/>
<circle cx="218.9" cy="635.0" r="3.6"/>
<circle cx="220.0" cy="629.0" r="3.6"/>
<circle cx="221.2" cy="637.6" r="3.6"/>
<circle cx="222.3" cy="631.6" r="3.6"/>
<circle cx="223.4" cy="629.9" r="3.6"/>
<circle cx="224.8" cy="629.0" r="3.6"/>
<circle cx="220.5" cy="646.2" r="3.6"/>
<circle cx="219.4" cy="649.6" r="3.6"/>
</g>
<g fill="#1013b2" stroke="#0a0a7c" stroke-width="1.1">
<circle cx="252.1" cy="607.0" r="3.6"/>
<circle cx="246.0" cy="626.2" r="3.6"/>
<circle cx="253.5" cy="584.2" r="3.6"/>
<circle cx="254.8" cy="590.5" r="3.6"/>
<circle cx="251.3" cy="587.8" r="3.6"/>
<circle cx="251.6" cy="613.9" r="3.6"/>
<circle cx="253.6" cy="597.9" r="3.6"/>
<circle cx="255.1" cy="587.1" r="3.6"/>
<circle cx="249.3" cy="584.2" r="3.6"/>
<circle cx="253.3" cy="623.4" r="3.6"/>
<circle cx="248.1" cy="613.2" r="3.6"/>
<circle cx="245.4" cy="605.5" r="3.6"/>
<circle cx="252.2" cy="602.6" r="3.6"/>
<circle cx="245.1" cy="621.3" r="3.6"/>
<circle cx="243.3" cy="596.0" r="3.6"/>
<circle cx="251.1" cy="617.9" r="3.6"/>
<circle cx="251.5" cy="632.5" r="3.6"/>
<circle cx="247.6" cy="633.0" r="3.6"/>
<circle cx="245.7" cy="586.3" r="3.6"/>
<circle cx="247.4" cy="602.1" r="3.6"/>
<circle cx="244.9" cy="599.8" r="3.6"/>
<circle cx="251.8" cy="610.2" r="3.6"/>
<circle cx="251.9" cy="594.4" r="3.6"/>
<circle cx="250.4" cy="625.4" r="3.6"/>
<circle cx="248.1" cy="590.2" r="3.6"/>
<circle cx="248.1" cy="616.5" r="3.6"/>
<circle cx="244.2" cy="591.4" r="3.6"/>
<circle cx="249.0" cy="628.5" r="3.6"/>
<circle cx="252.8" cy="628.6" r="3.6"/>
<circle cx="249.9" cy="599.6" r="3.6"/>
<circle cx="248.1" cy="607.7" r="3.6"/>
<circle cx="253.7" cy="580.5" r="3.6"/>
<circle cx="248.1" cy="594.7" r="3.6"/>
<circle cx="248.2" cy="573.5" r="3.6"/>
<circle cx="245.8" cy="610.2" r="3.6"/>
<circle cx="248.9" cy="621.0" r="3.6"/>
<circle cx="250.9" cy="575.8" r="3.6"/>
<circle cx="245.6" cy="583.1" r="3.6"/>
<circle cx="245.5" cy="578.3" r="3.6"/>
<circle cx="248.9" cy="579.5" r="3.6"/>
<circle cx="248.5" cy="571.1" r="3.6"/>
<circle cx="248.3" cy="635.8" r="3.6"/>
</g>
<g fill="#a0c7f4" stroke="#2c4468" stroke-width="1.0">
<circle cx="306.9" cy="604.5" r="3.6"/>
<circle cx="310.7" cy="629.8" r="3.6"/>
<circle cx="310.5" cy="606.9" r="3.6"/>
<circle cx="306.9" cy="623.1" r="3.6"/>
<circle cx="307.0" cy="629.3" r="3.6"/>
<circle cx="311.1" cy="614.6" r="3.6"/>
<circle cx="307.7" cy="619.2" r="3.6"/>
<circle cx="304.7" cy="626.7" r="3.6"/>
<circle cx="303.9" cy="620.0" r="3.6"/>
<circle cx="312.7" cy="620.1" r="3.6"/>
<circle cx="303.5" cy="611.0" r="3.6"/>
<circle cx="306.7" cy="634.1" r="3.6"/>
<circle cx="302.6" cy="622.0" r="3.6"/>
<circle cx="309.5" cy="600.4" r="3.6"/>
<circle cx="303.0" cy="617.4" r="3.6"/>
<circle cx="305.8" cy="621.4" r="3.6"/>
<circle cx="306.7" cy="611.4" r="3.6"/>
<circle cx="308.4" cy="597.0" r="3.6"/>
<circle cx="305.2" cy="624.6" r="3.6"/>
<circle cx="311.8" cy="623.4" r="3.6"/>
<circle cx="309.3" cy="591.4" r="3.6"/>
<circle cx="305.7" cy="607.7" r="3.6"/>
<circle cx="309.3" cy="595.0" r="3.6"/>
<circle cx="310.4" cy="603.9" r="3.6"/>
<circle cx="302.6" cy="613.0" r="3.6"/>
<circle cx="307.0" cy="598.5" r="3.6"/>
<circle cx="308.0" cy="602.0" r="3.6"/>
<circle cx="309.3" cy="627.1" r="3.6"/>
<circle cx="308.1" cy="643.0" r="3.6"/>
<circle cx="309.0" cy="612.9" r="3.6"/>
<circle cx="310.0" cy="636.7" r="3.6"/>
<circle cx="306.7" cy="627.1" r="3.6"/>
<circle cx="307.3" cy="592.9" r="3.6"/>
<circle cx="313.8" cy="622.5" r="3.6"/>
<circle cx="305.6" cy="613.2" r="3.6"/>
<circle cx="312.4" cy="612.2" r="3.6"/>
<circle cx="309.6" cy="620.6" r="3.6"/>
<circle cx="309.1" cy="639.0" r="3.6"/>
<circle cx="308.9" cy="605.3" r="3.6"/>
<circle cx="307.9" cy="587.8" r="3.6"/>
<circle cx="309.8" cy="632.6" r="3.6"/>
<circle cx="307.7" cy="608.1" r="3.6"/>
<circle cx="305.5" cy="616.9" r="3.6"/>
<circle cx="306.9" cy="638.3" r="3.6"/>
<circle cx="311.5" cy="627.3" r="3.6"/>
<circle cx="306.9" cy="636.3" r="3.6"/>
<circle cx="312.7" cy="625.5" r="3.6"/>
<circle cx="309.8" cy="618.6" r="3.6"/>
<circle cx="307.9" cy="640.9" r="3.6"/>
<circle cx="302.8" cy="624.1" r="3.6"/>
<circle cx="311.8" cy="609.4" r="3.6"/>
<circle cx="311.8" cy="617.9" r="3.6"/>
<circle cx="309.7" cy="624.8" r="3.6"/>
<circle cx="307.1" cy="631.5" r="3.6"/>
<circle cx="309.3" cy="616.2" r="3.6"/>
<circle cx="308.3" cy="586.0" r="3.6"/>
<circle cx="308.3" cy="645.4" r="3.6"/>
<circle cx="308.4" cy="688.5" r="3.6"/>
</g>
<g fill="#1013b2" stroke="#0a0a7c" stroke-width="1.1">
<circle cx="333.4" cy="617.1" r="3.6"/>
<circle cx="339.9" cy="612.2" r="3.6"/>
<circle cx="343.5" cy="612.6" r="3.6"/>
<circle cx="337.5" cy="631.1" r="3.6"/>
<circle cx="338.7" cy="599.8" r="3.6"/>
<circle cx="337.3" cy="614.0" r="3.6"/>
<circle cx="342.5" cy="615.6" r="3.6"/>
<circle cx="337.2" cy="590.4" r="3.6"/>
<circle cx="332.9" cy="623.7" r="3.6"/>
<circle cx="339.3" cy="627.6" r="3.6"/>
<circle cx="337.2" cy="611.2" r="3.6"/>
<circle cx="337.1" cy="602.8" r="3.6"/>
<circle cx="341.0" cy="636.0" r="3.6"/>
<circle cx="335.7" cy="619.6" r="3.6"/>
<circle cx="334.7" cy="600.4" r="3.6"/>
<circle cx="336.1" cy="625.0" r="3.6"/>
<circle cx="332.9" cy="620.4" r="3.6"/>
<circle cx="332.8" cy="609.1" r="3.6"/>
<circle cx="334.6" cy="630.9" r="3.6"/>
<circle cx="333.1" cy="604.5" r="3.6"/>
<circle cx="342.7" cy="624.7" r="3.6"/>
<circle cx="337.2" cy="622.1" r="3.6"/>
<circle cx="337.4" cy="616.9" r="3.6"/>
<circle cx="336.6" cy="597.4" r="3.6"/>
<circle cx="337.0" cy="608.1" r="3.6"/>
<circle cx="337.9" cy="580.0" r="3.6"/>
<circle cx="334.7" cy="595.1" r="3.6"/>
<circle cx="339.1" cy="593.7" r="3.6"/>
<circle cx="339.8" cy="623.3" r="3.6"/>
<circle cx="340.9" cy="632.6" r="3.6"/>
<circle cx="343.4" cy="609.2" r="3.6"/>
<circle cx="336.6" cy="638.2" r="3.6"/>
<circle cx="343.4" cy="621.3" r="3.6"/>
<circle cx="340.1" cy="597.1" r="3.6"/>
<circle cx="343.6" cy="601.1" r="3.6"/>
<circle cx="340.1" cy="607.9" r="3.6"/>
<circle cx="340.1" cy="619.7" r="3.6"/>
<circle cx="337.0" cy="582.8" r="3.6"/>
<circle cx="338.4" cy="605.5" r="3.6"/>
<circle cx="341.3" cy="602.8" r="3.6"/>
<circle cx="339.4" cy="585.1" r="3.6"/>
<circle cx="331.9" cy="612.6" r="3.6"/>
<circle cx="343.3" cy="618.3" r="3.6"/>
<circle cx="333.8" cy="627.3" r="3.6"/>
<circle cx="336.0" cy="633.5" r="3.6"/>
<circle cx="343.9" cy="604.6" r="3.6"/>
<circle cx="339.7" cy="588.6" r="3.6"/>
<circle cx="336.3" cy="586.8" r="3.6"/>
<circle cx="337.8" cy="570.1" r="3.6"/>
<circle cx="337.6" cy="578.6" r="3.6"/>
</g>
<line x1="122.4" y1="610.9" x2="141.2" y2="610.9" stroke="#000" stroke-width="2.8" />
<line x1="151.9" y1="606.3" x2="170.6" y2="606.3" stroke="#000" stroke-width="2.8" />
<line x1="210.9" y1="615.4" x2="230.2" y2="615.4" stroke="#000" stroke-width="2.8" />
<line x1="240.3" y1="599.2" x2="258.9" y2="599.2" stroke="#000" stroke-width="2.8" />
<line x1="299.3" y1="616.5" x2="317.9" y2="616.5" stroke="#000" stroke-width="2.8" />
<line x1="328.0" y1="609.3" x2="347.6" y2="609.3" stroke="#000" stroke-width="2.8" />
<text x="228.0" y="786.4" font-size="21.6" text-anchor="middle" font-weight="normal" >1 M post booster</text>
<path d="M120.5,800.5 V792.5 H338.4 V800.5" fill="none" stroke="#888" stroke-width="1"/>
<g transform="translate(93.9,838.6) rotate(-45) scale(1.19)" stroke="#333" stroke-width="0.8" fill="none" stroke-linecap="round">
<line x1="0" y1="0" x2="11.5" y2="0" stroke="#555" stroke-width="0.75"/>
<rect x="11.5" y="-1.2" width="3.8" height="2.4" rx="0.8" fill="#fff" stroke-width="0.65"/>
<rect x="15.3" y="-2.6" width="20.7" height="5.2" rx="1.2" fill="#fff" stroke="#3a3a3a"/>
<rect x="16.3" y="-1.8" width="8.2" height="3.6" rx="1" fill="#2f9a3a" stroke="#9bd69b" stroke-width="0.6"/>
<line x1="26.6" y1="-2.4" x2="26.6" y2="0.5" stroke="#4a4a4a" stroke-width="0.6"/>
<line x1="28.4" y1="-2.4" x2="28.4" y2="0.5" stroke="#4a4a4a" stroke-width="0.6"/>
<line x1="30.2" y1="-2.4" x2="30.2" y2="0.5" stroke="#4a4a4a" stroke-width="0.6"/>
<line x1="32.0" y1="-2.4" x2="32.0" y2="0.5" stroke="#4a4a4a" stroke-width="0.6"/>
<line x1="33.8" y1="-2.4" x2="33.8" y2="0.5" stroke="#4a4a4a" stroke-width="0.6"/>
<line x1="36" y1="-4.0" x2="36" y2="4.0" stroke="#222" stroke-width="1.3"/>
<line x1="36" y1="0" x2="41" y2="0" stroke="#222" stroke-width="1.2"/>
<line x1="41" y1="-2.8" x2="41" y2="2.8" stroke="#222" stroke-width="1.3"/>
</g>
<g transform="translate(108.3,838.3) rotate(-45) scale(1.19)" stroke="#333" stroke-width="0.8" fill="none" stroke-linecap="round">
<line x1="0" y1="0" x2="11.5" y2="0" stroke="#555" stroke-width="0.75"/>
<rect x="11.5" y="-1.2" width="3.8" height="2.4" rx="0.8" fill="#fff" stroke-width="0.65"/>
<rect x="15.3" y="-2.6" width="20.7" height="5.2" rx="1.2" fill="#fff" stroke="#3a3a3a"/>
<rect x="16.3" y="-1.8" width="8.2" height="3.6" rx="1" fill="#2f9a3a" stroke="#9bd69b" stroke-width="0.6"/>
<line x1="26.6" y1="-2.4" x2="26.6" y2="0.5" stroke="#4a4a4a" stroke-width="0.6"/>
<line x1="28.4" y1="-2.4" x2="28.4" y2="0.5" stroke="#4a4a4a" stroke-width="0.6"/>
<line x1="30.2" y1="-2.4" x2="30.2" y2="0.5" stroke="#4a4a4a" stroke-width="0.6"/>
<line x1="32.0" y1="-2.4" x2="32.0" y2="0.5" stroke="#4a4a4a" stroke-width="0.6"/>
<line x1="33.8" y1="-2.4" x2="33.8" y2="0.5" stroke="#4a4a4a" stroke-width="0.6"/>
<line x1="36" y1="-4.0" x2="36" y2="4.0" stroke="#222" stroke-width="1.3"/>
<line x1="36" y1="0" x2="41" y2="0" stroke="#222" stroke-width="1.2"/>
<line x1="41" y1="-2.8" x2="41" y2="2.8" stroke="#222" stroke-width="1.3"/>
</g>
<g transform="translate(209.1,837.2) rotate(-45) scale(1.19)" stroke="#333" stroke-width="0.8" fill="none" stroke-linecap="round">
<line x1="0" y1="0" x2="11.5" y2="0" stroke="#555" stroke-width="0.75"/>
<rect x="11.5" y="-1.2" width="3.8" height="2.4" rx="0.8" fill="#fff" stroke-width="0.65"/>
<rect x="15.3" y="-2.6" width="20.7" height="5.2" rx="1.2" fill="#fff" stroke="#3a3a3a"/>
<rect x="16.3" y="-1.8" width="8.2" height="3.6" rx="1" fill="#b5302c" stroke="#e39b98" stroke-width="0.6"/>
<line x1="26.6" y1="-2.4" x2="26.6" y2="0.5" stroke="#4a4a4a" stroke-width="0.6"/>
<line x1="28.4" y1="-2.4" x2="28.4" y2="0.5" stroke="#4a4a4a" stroke-width="0.6"/>
<line x1="30.2" y1="-2.4" x2="30.2" y2="0.5" stroke="#4a4a4a" stroke-width="0.6"/>
<line x1="32.0" y1="-2.4" x2="32.0" y2="0.5" stroke="#4a4a4a" stroke-width="0.6"/>
<line x1="33.8" y1="-2.4" x2="33.8" y2="0.5" stroke="#4a4a4a" stroke-width="0.6"/>
<line x1="36" y1="-4.0" x2="36" y2="4.0" stroke="#222" stroke-width="1.3"/>
<line x1="36" y1="0" x2="41" y2="0" stroke="#222" stroke-width="1.2"/>
<line x1="41" y1="-2.8" x2="41" y2="2.8" stroke="#222" stroke-width="1.3"/>
</g>
<g transform="translate(223.2,837.2) rotate(-45) scale(1.19)" stroke="#333" stroke-width="0.8" fill="none" stroke-linecap="round">
<line x1="0" y1="0" x2="11.5" y2="0" stroke="#555" stroke-width="0.75"/>
<rect x="11.5" y="-1.2" width="3.8" height="2.4" rx="0.8" fill="#fff" stroke-width="0.65"/>
<rect x="15.3" y="-2.6" width="20.7" height="5.2" rx="1.2" fill="#fff" stroke="#3a3a3a"/>
<rect x="16.3" y="-1.8" width="8.2" height="3.6" rx="1" fill="#b5302c" stroke="#e39b98" stroke-width="0.6"/>
<line x1="26.6" y1="-2.4" x2="26.6" y2="0.5" stroke="#4a4a4a" stroke-width="0.6"/>
<line x1="28.4" y1="-2.4" x2="28.4" y2="0.5" stroke="#4a4a4a" stroke-width="0.6"/>
<line x1="30.2" y1="-2.4" x2="30.2" y2="0.5" stroke="#4a4a4a" stroke-width="0.6"/>
<line x1="32.0" y1="-2.4" x2="32.0" y2="0.5" stroke="#4a4a4a" stroke-width="0.6"/>
<line x1="33.8" y1="-2.4" x2="33.8" y2="0.5" stroke="#4a4a4a" stroke-width="0.6"/>
<line x1="36" y1="-4.0" x2="36" y2="4.0" stroke="#222" stroke-width="1.3"/>
<line x1="36" y1="0" x2="41" y2="0" stroke="#222" stroke-width="1.2"/>
<line x1="41" y1="-2.8" x2="41" y2="2.8" stroke="#222" stroke-width="1.3"/>
</g>
<g transform="translate(309.0,838.6) rotate(-45) scale(1.19)" stroke="#333" stroke-width="0.8" fill="none" stroke-linecap="round">
<line x1="0" y1="0" x2="11.5" y2="0" stroke="#555" stroke-width="0.75"/>
<rect x="11.5" y="-1.2" width="3.8" height="2.4" rx="0.8" fill="#fff" stroke-width="0.65"/>
<rect x="15.3" y="-2.6" width="20.7" height="5.2" rx="1.2" fill="#fff" stroke="#3a3a3a"/>
<rect x="16.3" y="-1.8" width="8.2" height="3.6" rx="1" fill="#b5302c" stroke="#e39b98" stroke-width="0.6"/>
<line x1="26.6" y1="-2.4" x2="26.6" y2="0.5" stroke="#4a4a4a" stroke-width="0.6"/>
<line x1="28.4" y1="-2.4" x2="28.4" y2="0.5" stroke="#4a4a4a" stroke-width="0.6"/>
<line x1="30.2" y1="-2.4" x2="30.2" y2="0.5" stroke="#4a4a4a" stroke-width="0.6"/>
<line x1="32.0" y1="-2.4" x2="32.0" y2="0.5" stroke="#4a4a4a" stroke-width="0.6"/>
<line x1="33.8" y1="-2.4" x2="33.8" y2="0.5" stroke="#4a4a4a" stroke-width="0.6"/>
<line x1="36" y1="-4.0" x2="36" y2="4.0" stroke="#222" stroke-width="1.3"/>
<line x1="36" y1="0" x2="41" y2="0" stroke="#222" stroke-width="1.2"/>
<line x1="41" y1="-2.8" x2="41" y2="2.8" stroke="#222" stroke-width="1.3"/>
</g>
<g transform="translate(323.0,838.6) rotate(-45) scale(1.19)" stroke="#333" stroke-width="0.8" fill="none" stroke-linecap="round">
<line x1="0" y1="0" x2="11.5" y2="0" stroke="#555" stroke-width="0.75"/>
<rect x="11.5" y="-1.2" width="3.8" height="2.4" rx="0.8" fill="#fff" stroke-width="0.65"/>
<rect x="15.3" y="-2.6" width="20.7" height="5.2" rx="1.2" fill="#fff" stroke="#3a3a3a"/>
<rect x="16.3" y="-1.8" width="8.2" height="3.6" rx="1" fill="#2f9a3a" stroke="#9bd69b" stroke-width="0.6"/>
<line x1="26.6" y1="-2.4" x2="26.6" y2="0.5" stroke="#4a4a4a" stroke-width="0.6"/>
<line x1="28.4" y1="-2.4" x2="28.4" y2="0.5" stroke="#4a4a4a" stroke-width="0.6"/>
<line x1="30.2" y1="-2.4" x2="30.2" y2="0.5" stroke="#4a4a4a" stroke-width="0.6"/>
<line x1="32.0" y1="-2.4" x2="32.0" y2="0.5" stroke="#4a4a4a" stroke-width="0.6"/>
<line x1="33.8" y1="-2.4" x2="33.8" y2="0.5" stroke="#4a4a4a" stroke-width="0.6"/>
<line x1="36" y1="-4.0" x2="36" y2="4.0" stroke="#222" stroke-width="1.3"/>
<line x1="36" y1="0" x2="41" y2="0" stroke="#222" stroke-width="1.2"/>
<line x1="41" y1="-2.8" x2="41" y2="2.8" stroke="#222" stroke-width="1.3"/>
</g>
<text x="119.5" y="854.2" font-size="21.6" text-anchor="middle" font-weight="normal" >BNTx2</text>
<text x="227.7" y="854.2" font-size="21.6" text-anchor="middle" font-weight="normal" >ChAdx2</text>
<text x="343.0" y="853.1" font-size="21.3" text-anchor="middle" font-weight="normal" >ChAd+BNT</text>
<text x="174.6" y="886.6" font-size="19.3" text-anchor="middle" font-weight="normal" >+</text>
<g transform="translate(172.5,898.0) rotate(-45) scale(0.95)" stroke="#333" stroke-width="0.8" fill="none" stroke-linecap="round">
<line x1="0" y1="0" x2="11.5" y2="0" stroke="#555" stroke-width="0.75"/>
<rect x="11.5" y="-1.2" width="3.8" height="2.4" rx="0.8" fill="#fff" stroke-width="0.65"/>
<rect x="15.3" y="-2.6" width="20.7" height="5.2" rx="1.2" fill="#fff" stroke="#3a3a3a"/>
<rect x="16.3" y="-1.8" width="8.2" height="3.6" rx="1" fill="#3c4cc0" stroke="#a0a8e8" stroke-width="0.6"/>
<line x1="26.6" y1="-2.4" x2="26.6" y2="0.5" stroke="#4a4a4a" stroke-width="0.6"/>
<line x1="28.4" y1="-2.4" x2="28.4" y2="0.5" stroke="#4a4a4a" stroke-width="0.6"/>
<line x1="30.2" y1="-2.4" x2="30.2" y2="0.5" stroke="#4a4a4a" stroke-width="0.6"/>
<line x1="32.0" y1="-2.4" x2="32.0" y2="0.5" stroke="#4a4a4a" stroke-width="0.6"/>
<line x1="33.8" y1="-2.4" x2="33.8" y2="0.5" stroke="#4a4a4a" stroke-width="0.6"/>
<line x1="36" y1="-4.0" x2="36" y2="4.0" stroke="#222" stroke-width="1.3"/>
<line x1="36" y1="0" x2="41" y2="0" stroke="#222" stroke-width="1.2"/>
<line x1="41" y1="-2.8" x2="41" y2="2.8" stroke="#222" stroke-width="1.3"/>
</g>
<text x="208.4" y="889.8" font-size="21.6" text-anchor="start" font-weight="normal" >MOD</text>
<text x="431.2" y="486.5" font-size="45" text-anchor="start" font-weight="normal" >E</text>
<line x1="532.7" y1="512.3" x2="774.1" y2="512.3" stroke="#e6e6e6" stroke-width="1" />
<line x1="532.7" y1="560.7" x2="774.1" y2="560.7" stroke="#e6e6e6" stroke-width="1" />
<line x1="532.7" y1="609.1" x2="774.1" y2="609.1" stroke="#e6e6e6" stroke-width="1" />
<line x1="532.7" y1="657.4" x2="774.1" y2="657.4" stroke="#e6e6e6" stroke-width="1" />
<line x1="532.7" y1="705.8" x2="774.1" y2="705.8" stroke="#e6e6e6" stroke-width="1" />
<line x1="532.7" y1="511.3" x2="532.7" y2="755.4" stroke="#000" stroke-width="2.4" />
<line x1="526.2" y1="754.2" x2="775.1" y2="754.2" stroke="#000" stroke-width="2.4" />
<line x1="526.2" y1="512.3" x2="532.7" y2="512.3" stroke="#000" stroke-width="2" />
<text x="515.9" y="517.8" font-size="15.9" text-anchor="end" font-weight="normal" >10</text>
<text x="517.4" y="512.7" font-size="10.4" text-anchor="start" font-weight="normal" >5</text>
<line x1="526.2" y1="560.7" x2="532.7" y2="560.7" stroke="#000" stroke-width="2" />
<text x="515.9" y="566.2" font-size="15.9" text-anchor="end" font-weight="normal" >10</text>
<text x="517.4" y="561.1" font-size="10.4" text-anchor="start" font-weight="normal" >4</text>
<line x1="526.2" y1="609.1" x2="532.7" y2="609.1" stroke="#000" stroke-width="2" />
<text x="515.9" y="614.6" font-size="15.9" text-anchor="end" font-weight="normal" >10</text>
<text x="517.4" y="609.5" font-size="10.4" text-anchor="start" font-weight="normal" >3</text>
<line x1="526.2" y1="657.4" x2="532.7" y2="657.4" stroke="#000" stroke-width="2" />
<text x="515.9" y="662.9" font-size="15.9" text-anchor="end" font-weight="normal" >10</text>
<text x="517.4" y="657.8" font-size="10.4" text-anchor="start" font-weight="normal" >2</text>
<line x1="526.2" y1="705.8" x2="532.7" y2="705.8" stroke="#000" stroke-width="2" />
<text x="515.9" y="711.3" font-size="15.9" text-anchor="end" font-weight="normal" >10</text>
<text x="517.4" y="706.2" font-size="10.4" text-anchor="start" font-weight="normal" >1</text>
<text x="515.9" y="759.7" font-size="15.9" text-anchor="end" font-weight="normal" >10</text>
<text x="517.4" y="754.6" font-size="10.4" text-anchor="start" font-weight="normal" >0</text>
<g transform="translate(480.7,750.8) rotate(-90)">
<text x="-1.9" y="0" font-size="25.5">Neut. IC</text>
<text x="89.6" y="6.2" font-size="17.5">100</text>
<text x="125.4" y="0" font-size="25.5" letter-spacing="-0.58">(1/dilution)</text>
</g>
<text class="st" x="654.3" y="570.5">****</text>
<line x1="601.6" y1="571.9" x2="705.0" y2="571.9" stroke="#000" stroke-width="2" />
<g fill="#a0c7f4" stroke="#2c4468" stroke-width="1.0">
<circle cx="601.4" cy="590.3" r="3.6"/>
<circle cx="595.2" cy="599.2" r="3.6"/>
<circle cx="601.4" cy="599.2" r="3.6"/>
<circle cx="607.7" cy="599.2" r="3.6"/>
<circle cx="599.5" cy="609.7" r="3.6"/>
<circle cx="574.5" cy="613.3" r="3.6"/>
<circle cx="578.6" cy="613.3" r="3.6"/>
<circle cx="582.8" cy="613.3" r="3.6"/>
<circle cx="586.9" cy="613.3" r="3.6"/>
<circle cx="591.1" cy="613.3" r="3.6"/>
<circle cx="595.2" cy="613.3" r="3.6"/>
<circle cx="599.4" cy="613.3" r="3.6"/>
<circle cx="603.5" cy="613.3" r="3.6"/>
<circle cx="607.7" cy="613.3" r="3.6"/>
<circle cx="611.8" cy="613.3" r="3.6"/>
<circle cx="616.0" cy="613.3" r="3.6"/>
<circle cx="620.1" cy="613.3" r="3.6"/>
<circle cx="624.3" cy="613.3" r="3.6"/>
<circle cx="628.4" cy="613.3" r="3.6"/>
<circle cx="570.6" cy="621.9" r="3.6"/>
<circle cx="573.9" cy="621.9" r="3.6"/>
<circle cx="577.2" cy="621.9" r="3.6"/>
<circle cx="580.5" cy="621.9" r="3.6"/>
<circle cx="583.8" cy="621.9" r="3.6"/>
<circle cx="587.0" cy="621.9" r="3.6"/>
<circle cx="590.3" cy="621.9" r="3.6"/>
<circle cx="593.6" cy="621.9" r="3.6"/>
<circle cx="596.9" cy="621.9" r="3.6"/>
<circle cx="600.2" cy="621.9" r="3.6"/>
<circle cx="603.5" cy="621.9" r="3.6"/>
<circle cx="606.8" cy="621.9" r="3.6"/>
<circle cx="610.1" cy="621.9" r="3.6"/>
<circle cx="613.4" cy="621.9" r="3.6"/>
<circle cx="616.7" cy="621.9" r="3.6"/>
<circle cx="619.9" cy="621.9" r="3.6"/>
<circle cx="623.2" cy="621.9" r="3.6"/>
<circle cx="626.5" cy="621.9" r="3.6"/>
<circle cx="629.8" cy="621.9" r="3.6"/>
<circle cx="633.1" cy="621.9" r="3.6"/>
<circle cx="591.0" cy="637.0" r="3.6"/>
<circle cx="596.2" cy="637.0" r="3.6"/>
<circle cx="601.4" cy="637.0" r="3.6"/>
<circle cx="606.6" cy="637.0" r="3.6"/>
<circle cx="611.6" cy="637.0" r="3.6"/>
</g>
<g fill="#a0c7f4" stroke="#2c4468" stroke-width="1.0">
<circle cx="705.3" cy="636.3" r="3.6"/>
<circle cx="693.3" cy="644.8" r="3.6"/>
<circle cx="698.0" cy="644.8" r="3.6"/>
<circle cx="705.3" cy="644.8" r="3.6"/>
<circle cx="712.0" cy="644.8" r="3.6"/>
<circle cx="717.5" cy="644.8" r="3.6"/>
<circle cx="673.8" cy="659.1" r="3.6"/>
<circle cx="677.1" cy="659.1" r="3.6"/>
<circle cx="680.5" cy="659.1" r="3.6"/>
<circle cx="683.8" cy="659.1" r="3.6"/>
<circle cx="687.1" cy="659.1" r="3.6"/>
<circle cx="690.4" cy="659.1" r="3.6"/>
<circle cx="693.8" cy="659.1" r="3.6"/>
<circle cx="697.1" cy="659.1" r="3.6"/>
<circle cx="700.4" cy="659.1" r="3.6"/>
<circle cx="703.7" cy="659.1" r="3.6"/>
<circle cx="707.1" cy="659.1" r="3.6"/>
<circle cx="710.4" cy="659.1" r="3.6"/>
<circle cx="713.7" cy="659.1" r="3.6"/>
<circle cx="717.0" cy="659.1" r="3.6"/>
<circle cx="720.4" cy="659.1" r="3.6"/>
<circle cx="723.7" cy="659.1" r="3.6"/>
<circle cx="727.0" cy="659.1" r="3.6"/>
<circle cx="730.3" cy="659.1" r="3.6"/>
<circle cx="733.7" cy="659.1" r="3.6"/>
<circle cx="737.0" cy="659.1" r="3.6"/>
<circle cx="691.0" cy="667.7" r="3.6"/>
<circle cx="695.6" cy="667.7" r="3.6"/>
<circle cx="700.3" cy="667.7" r="3.6"/>
<circle cx="709.7" cy="667.7" r="3.6"/>
<circle cx="715.2" cy="667.7" r="3.6"/>
<circle cx="719.8" cy="667.7" r="3.6"/>
<circle cx="705.0" cy="673.9" r="3.6"/>
<circle cx="683.9" cy="682.5" r="3.6"/>
<circle cx="688.7" cy="682.5" r="3.6"/>
<circle cx="693.5" cy="682.5" r="3.6"/>
<circle cx="698.2" cy="682.5" r="3.6"/>
<circle cx="703.0" cy="682.5" r="3.6"/>
<circle cx="707.8" cy="682.5" r="3.6"/>
<circle cx="712.6" cy="682.5" r="3.6"/>
<circle cx="717.3" cy="682.5" r="3.6"/>
<circle cx="722.1" cy="682.5" r="3.6"/>
<circle cx="726.9" cy="682.5" r="3.6"/>
<circle cx="702.7" cy="691.1" r="3.6"/>
<circle cx="707.8" cy="691.1" r="3.6"/>
<circle cx="705.3" cy="705.5" r="3.6"/>
</g>
<line x1="601.4" y1="609.7" x2="601.4" y2="621.9" stroke="#223" stroke-width="0.8" />
<line x1="705.3" y1="659.1" x2="705.3" y2="682.5" stroke="#223" stroke-width="0.8" />
<line x1="567.2" y1="621.9" x2="636.3" y2="621.9" stroke="#000" stroke-width="3.0" />
<line x1="670.6" y1="659.1" x2="740.2" y2="659.1" stroke="#000" stroke-width="3.0" />
<line x1="601.6" y1="754.4" x2="601.6" y2="761.3" stroke="#000" stroke-width="2" />
<line x1="705.1" y1="754.4" x2="705.1" y2="761.3" stroke="#000" stroke-width="2" />
<text x="601.5" y="779.9" font-size="19" text-anchor="middle" font-weight="bold" >WT</text>
<text x="704.7" y="779.9" font-size="19" text-anchor="middle" font-weight="bold" >Omicron</text>
<path d="M539.5,806.0 V795.5 H754.5 V806.0" fill="none" stroke="#707070" stroke-width="1"/>
<text x="566.6" y="818.5" font-size="21.5" text-anchor="start" font-weight="normal" >1 M post booster,</text>
<text x="566.0" y="843.0" font-size="21.4" text-anchor="start" font-weight="normal" >SARS-CoV-2 naive</text>
<text x="848.6" y="486.5" font-size="45" text-anchor="start" font-weight="normal" >F</text>
<line x1="955.0" y1="512.3" x2="1197.1" y2="512.3" stroke="#e6e6e6" stroke-width="1" />
<line x1="955.0" y1="560.7" x2="1197.1" y2="560.7" stroke="#e6e6e6" stroke-width="1" />
<line x1="955.0" y1="609.1" x2="1197.1" y2="609.1" stroke="#e6e6e6" stroke-width="1" />
<line x1="955.0" y1="657.4" x2="1197.1" y2="657.4" stroke="#e6e6e6" stroke-width="1" />
<line x1="955.0" y1="705.8" x2="1197.1" y2="705.8" stroke="#e6e6e6" stroke-width="1" />
<line x1="955.0" y1="511.3" x2="955.0" y2="755.4" stroke="#000" stroke-width="2.4" />
<line x1="948.5" y1="754.2" x2="1198.1" y2="754.2" stroke="#000" stroke-width="2.4" />
<line x1="948.5" y1="512.3" x2="955.0" y2="512.3" stroke="#000" stroke-width="2" />
<text x="938.2" y="517.8" font-size="15.9" text-anchor="end" font-weight="normal" >10</text>
<text x="939.7" y="512.7" font-size="10.4" text-anchor="start" font-weight="normal" >5</text>
<line x1="948.5" y1="560.7" x2="955.0" y2="560.7" stroke="#000" stroke-width="2" />
<text x="938.2" y="566.2" font-size="15.9" text-anchor="end" font-weight="normal" >10</text>
<text x="939.7" y="561.1" font-size="10.4" text-anchor="start" font-weight="normal" >4</text>
<line x1="948.5" y1="609.1" x2="955.0" y2="609.1" stroke="#000" stroke-width="2" />
<text x="938.2" y="614.6" font-size="15.9" text-anchor="end" font-weight="normal" >10</text>
<text x="939.7" y="609.5" font-size="10.4" text-anchor="start" font-weight="normal" >3</text>
<line x1="948.5" y1="657.4" x2="955.0" y2="657.4" stroke="#000" stroke-width="2" />
<text x="938.2" y="662.9" font-size="15.9" text-anchor="end" font-weight="normal" >10</text>
<text x="939.7" y="657.8" font-size="10.4" text-anchor="start" font-weight="normal" >2</text>
<line x1="948.5" y1="705.8" x2="955.0" y2="705.8" stroke="#000" stroke-width="2" />
<text x="938.2" y="711.3" font-size="15.9" text-anchor="end" font-weight="normal" >10</text>
<text x="939.7" y="706.2" font-size="10.4" text-anchor="start" font-weight="normal" >1</text>
<text x="938.2" y="759.7" font-size="15.9" text-anchor="end" font-weight="normal" >10</text>
<text x="939.7" y="754.6" font-size="10.4" text-anchor="start" font-weight="normal" >0</text>
<g transform="translate(903.1,750.8) rotate(-90)">
<text x="-1.9" y="0" font-size="25.5">Neut. IC</text>
<text x="89.6" y="6.2" font-size="17.5">100</text>
<text x="125.4" y="0" font-size="25.5" letter-spacing="-0.58">(1/dilution)</text>
</g>
<text class="st" x="1077.0" y="532.3">****</text>
<line x1="1024.6" y1="534.7" x2="1127.9" y2="534.7" stroke="#000" stroke-width="2" />
<line x1="1024.5" y1="570.9" x2="1024.5" y2="613.4" stroke="#888" stroke-width="1" />
<line x1="1007.1" y1="570.9" x2="1041.9" y2="570.9" stroke="#888" stroke-width="1" />
<line x1="1007.1" y1="613.4" x2="1041.9" y2="613.4" stroke="#888" stroke-width="1" />
<line x1="1128.1" y1="645.2" x2="1128.1" y2="659.5" stroke="#888" stroke-width="1" />
<line x1="1110.9" y1="645.2" x2="1145.3" y2="645.2" stroke="#888" stroke-width="1" />
<g fill="#1013b2" stroke="#0a0a7c" stroke-width="1.1">
<circle cx="1024.5" cy="552.8" r="3.6"/>
<circle cx="1016.7" cy="567.3" r="3.6"/>
<circle cx="1032.3" cy="567.3" r="3.6"/>
<circle cx="1024.5" cy="576.3" r="3.6"/>
<circle cx="1009.0" cy="590.8" r="3.6"/>
<circle cx="1024.5" cy="590.8" r="3.6"/>
<circle cx="1040.0" cy="590.8" r="3.6"/>
<circle cx="1024.5" cy="599.1" r="3.6"/>
<circle cx="993.7" cy="613.4" r="3.6"/>
<circle cx="1009.1" cy="613.4" r="3.6"/>
<circle cx="1024.5" cy="613.4" r="3.6"/>
<circle cx="1039.9" cy="613.4" r="3.6"/>
<circle cx="1055.3" cy="613.4" r="3.6"/>
</g>
<g fill="#1013b2" stroke="#0a0a7c" stroke-width="1.1">
<circle cx="1123.4" cy="636.6" r="3.6"/>
<circle cx="1132.8" cy="636.6" r="3.6"/>
<circle cx="1123.4" cy="645.2" r="3.6"/>
<circle cx="1132.8" cy="645.2" r="3.6"/>
<circle cx="1097.3" cy="659.5" r="3.6"/>
<circle cx="1106.2" cy="659.5" r="3.6"/>
<circle cx="1115.0" cy="659.5" r="3.6"/>
<circle cx="1123.9" cy="659.5" r="3.6"/>
<circle cx="1132.8" cy="659.5" r="3.6"/>
<circle cx="1141.7" cy="659.5" r="3.6"/>
<circle cx="1150.5" cy="659.5" r="3.6"/>
<circle cx="1159.4" cy="659.5" r="3.6"/>
<circle cx="1128.1" cy="668.1" r="3.6"/>
</g>
<g fill="#0b0b58" stroke="#07073a" stroke-width="1.1">
<circle cx="1009.0" cy="590.8" r="3.6"/>
<circle cx="1024.5" cy="590.8" r="3.6"/>
<circle cx="1040.0" cy="590.8" r="3.6"/>
<circle cx="1097.3" cy="659.5" r="3.6"/>
<circle cx="1106.2" cy="659.5" r="3.6"/>
<circle cx="1115.0" cy="659.5" r="3.6"/>
<circle cx="1123.9" cy="659.5" r="3.6"/>
<circle cx="1132.8" cy="659.5" r="3.6"/>
<circle cx="1141.7" cy="659.5" r="3.6"/>
<circle cx="1150.5" cy="659.5" r="3.6"/>
<circle cx="1159.4" cy="659.5" r="3.6"/>
</g>
<line x1="989.8" y1="590.8" x2="1058.9" y2="590.8" stroke="#000" stroke-width="3" />
<line x1="1093.8" y1="659.5" x2="1162.5" y2="659.5" stroke="#07073a" stroke-width="3" />
<line x1="1024.6" y1="754.4" x2="1024.6" y2="761.3" stroke="#000" stroke-width="2" />
<line x1="1127.9" y1="754.4" x2="1127.9" y2="761.3" stroke="#000" stroke-width="2" />
<text x="1024.5" y="779.9" font-size="19" text-anchor="middle" font-weight="bold" >WT</text>
<text x="1127.7" y="779.9" font-size="19" text-anchor="middle" font-weight="bold" >Omicron</text>
<path d="M962.5,806.0 V795.5 H1177.5 V806.0" fill="none" stroke="#707070" stroke-width="1"/>
<text x="989.0" y="818.5" font-size="21.5" text-anchor="start" font-weight="normal" >1 M post booster,</text>
<text x="988.8" y="843.0" font-size="21.4" text-anchor="start" font-weight="normal" >SARS-CoV-2 recovered</text>
<circle cx="626.3" cy="903" r="8.1" fill="#8fbaf0" stroke="#5a6f8f" stroke-width="1"/>
<text x="641.6" y="911.0" font-size="22.8" text-anchor="start" font-weight="normal" >SARS-CoV- 2 Naive</text>
<circle cx="879.6" cy="901.5" r="8.2" fill="#1414c8" stroke="#0c0c90" stroke-width="0.8"/>
<g fill="#7a7aea"><circle cx="879.0" cy="900.9" r="0.7"/><circle cx="873.0" cy="901.1" r="0.7"/><circle cx="885.8" cy="901.1" r="0.7"/><circle cx="875.9" cy="907.1" r="0.7"/><circle cx="882.2" cy="907.2" r="0.7"/></g>
<text x="898.4" y="911.2" font-size="23.05" text-anchor="start" font-weight="normal" >SARS-CoV-2 Recovered</text>
</svg>
</body></html>
